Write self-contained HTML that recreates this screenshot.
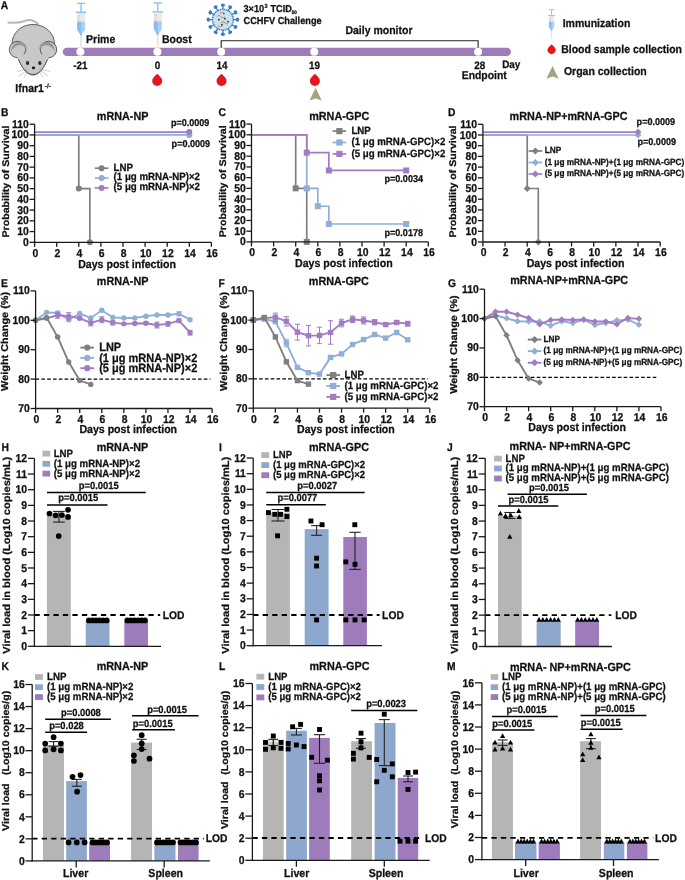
<!DOCTYPE html>
<html><head><meta charset="utf-8"><style>
html,body{margin:0;padding:0;background:#fff;}
svg{display:block;will-change:transform;}
text{font-family:"Liberation Sans",sans-serif;text-rendering:geometricPrecision;}
</style></head><body>
<svg width="685" height="880" viewBox="0 0 685 880">
<rect width="685" height="880" fill="#fff"/>
<text transform="translate(0.80 8.50) scale(1 1.09)" font-size="10.30" text-anchor="start" font-weight="bold" fill="#111" stroke="#111" stroke-width="0.25">A</text>
<g>
<path d="M8.4,22.6 C14,22.9 20,22.6 24,21.2 C28,19.4 33,19.1 38,24" fill="none" stroke="#b9b9b9" stroke-width="2.1" stroke-linecap="round"/>
<path d="M33,24.5 C45.5,24.5 54.5,33.5 54.5,44 C54.5,52 50,56 47.5,59.5 C44.5,66 40,75 33,75 C26,75 21.5,66 18.5,59.5 C16,56 12,52 12,44 C12,33.5 20.5,24.5 33,24.5Z" fill="#c8c8c8" stroke="#444" stroke-width="0.85"/>
<circle cx="17.5" cy="49.5" r="8.2" fill="#c8c8c8" stroke="#444" stroke-width="0.85"/>
<circle cx="48.5" cy="49.5" r="8.2" fill="#c8c8c8" stroke="#444" stroke-width="0.85"/>
<path d="M11.3,52 C11,44 17,40.8 21.5,42 C25.5,43 27,46.5 26.6,50.5 C25,46 21,44.6 17.5,45.6 C14,46.8 12.2,49.5 11.3,52Z" fill="#979797"/>
<path d="M54.7,52 C55,44 49,40.8 44.5,42 C40.5,43 39,46.5 39.4,50.5 C41,46 45,44.6 48.5,45.6 C52,46.8 53.8,49.5 54.7,52Z" fill="#979797"/>
<path d="M17,57.5 C21,55 22,54 24,54.5 L42,54.5 C44,54 45,55 49,57.5 C46,64 41,74.5 33,74.5 C25,74.5 20,64 17,57.5Z" fill="#c8c8c8"/>
<path d="M18.5,59.5 C21.5,66 26,74.6 33,74.6 C40,74.6 44.5,66 47.5,59.5" fill="none" stroke="#444" stroke-width="0.85"/>
<ellipse cx="27.6" cy="63" rx="1.6" ry="1.9" fill="#1a1a1a"/>
<ellipse cx="39.9" cy="63" rx="1.6" ry="1.9" fill="#1a1a1a"/>
<circle cx="27.9" cy="62.5" r="0.45" fill="#ddd"/><circle cx="40.2" cy="62.5" r="0.45" fill="#ddd"/>
<ellipse cx="33.5" cy="67.9" rx="1.7" ry="1.35" fill="#1a1a1a"/>
<g stroke="#8a8a8a" stroke-width="0.45" fill="none">
<path d="M27,69 L17,71.5"/><path d="M27.5,70 L19,76"/><path d="M28,71 L24,77.5"/>
<path d="M40,69 L50,71.5"/><path d="M39.5,70 L48,76"/><path d="M39,71 L43,77.5"/>
</g>
</g>
<text transform="translate(15.30 91.60) scale(1 1.09)" font-size="10.50" text-anchor="start" font-weight="bold" fill="#111" stroke="#111" stroke-width="0.25">Ifnar1</text>
<text transform="translate(44.80 87.70) scale(1 1.0)" font-size="6.30" text-anchor="start" font-weight="bold" fill="#222" stroke="#222" stroke-width="0.25">-/-</text>
<rect x="62.7" y="47.70" width="448.30" height="8.3" rx="4.15" fill="#9d7cb9"/>
<circle cx="80.40" cy="51.85" r="4.00" fill="#fff"/>
<circle cx="157.40" cy="51.85" r="4.00" fill="#fff"/>
<circle cx="221.20" cy="51.85" r="4.00" fill="#fff"/>
<circle cx="314.20" cy="51.85" r="4.00" fill="#fff"/>
<circle cx="478.10" cy="51.85" r="4.00" fill="#fff"/>
<path d="M221.2,47.85 V40.8 H478.1 V47.85" fill="none" stroke="#222" stroke-width="1.1"/>
<g transform="translate(81.10,3.30) scale(1.0)"><rect x="-4.2" y="-0.6" width="8.4" height="1.4" fill="#8fc0ef"/><rect x="-0.7" y="0" width="1.4" height="9" fill="#8fc0ef"/><rect x="-5.3" y="8.3" width="10.6" height="1.5" fill="#8fc0ef"/><path d="M-4,9.8 H4 V26 L0.9,31.2 H-0.9 L-4,26Z" fill="#e9e9e9"/><path d="M-4,18.5 H4 V26 L0.9,31.2 H-0.9 L-4,26Z" fill="#a9d0f5"/><path d="M-4,18.5 H0 V31.2 H-0.9 L-4,26Z" fill="#8dbdf0"/><g stroke="#b0b0b0" stroke-width="0.5"><line x1="-3.5" y1="12.5" x2="-1" y2="12.5"/><line x1="-3.5" y1="15" x2="-1" y2="15"/><line x1="-3.5" y1="17.5" x2="-1" y2="17.5"/><line x1="-3.5" y1="20.5" x2="-1" y2="20.5"/><line x1="-3.5" y1="23" x2="-1" y2="23"/></g><rect x="-0.9" y="31.2" width="1.8" height="1" fill="#a29b78"/><rect x="-0.8" y="32.2" width="1.6" height="11.5" fill="#e3e3e3"/></g>
<g transform="translate(157.80,2.90) scale(1.0)"><rect x="-4.2" y="-0.6" width="8.4" height="1.4" fill="#8fc0ef"/><rect x="-0.7" y="0" width="1.4" height="9" fill="#8fc0ef"/><rect x="-5.3" y="8.3" width="10.6" height="1.5" fill="#8fc0ef"/><path d="M-4,9.8 H4 V26 L0.9,31.2 H-0.9 L-4,26Z" fill="#e9e9e9"/><path d="M-4,18.5 H4 V26 L0.9,31.2 H-0.9 L-4,26Z" fill="#a9d0f5"/><path d="M-4,18.5 H0 V31.2 H-0.9 L-4,26Z" fill="#8dbdf0"/><g stroke="#b0b0b0" stroke-width="0.5"><line x1="-3.5" y1="12.5" x2="-1" y2="12.5"/><line x1="-3.5" y1="15" x2="-1" y2="15"/><line x1="-3.5" y1="17.5" x2="-1" y2="17.5"/><line x1="-3.5" y1="20.5" x2="-1" y2="20.5"/><line x1="-3.5" y1="23" x2="-1" y2="23"/></g><rect x="-0.9" y="31.2" width="1.8" height="1" fill="#a29b78"/><rect x="-0.8" y="32.2" width="1.6" height="11.5" fill="#e3e3e3"/></g>
<text transform="translate(86.10 42.70) scale(1 1.09)" font-size="10.50" text-anchor="start" font-weight="bold" fill="#111" stroke="#111" stroke-width="0.25">Prime</text>
<text transform="translate(161.90 42.80) scale(1 1.09)" font-size="10.50" text-anchor="start" font-weight="bold" fill="#111" stroke="#111" stroke-width="0.25">Boost</text>
<g transform="translate(222.90,19.70)"><line x1="0.00" y1="-10.00" x2="0.00" y2="-14.60" stroke="#3b7cc4" stroke-width="1.3"/><ellipse cx="0.00" cy="-14.60" rx="2.1" ry="1.7" transform="rotate(0.0 0.00 -14.60)" fill="#3b7cc4"/><line x1="5.00" y1="-8.66" x2="7.30" y2="-12.64" stroke="#3b7cc4" stroke-width="1.3"/><ellipse cx="7.30" cy="-12.64" rx="2.1" ry="1.7" transform="rotate(30.0 7.30 -12.64)" fill="#3b7cc4"/><line x1="8.66" y1="-5.00" x2="12.64" y2="-7.30" stroke="#3b7cc4" stroke-width="1.3"/><ellipse cx="12.64" cy="-7.30" rx="2.1" ry="1.7" transform="rotate(60.0 12.64 -7.30)" fill="#3b7cc4"/><line x1="10.00" y1="0.00" x2="14.60" y2="0.00" stroke="#3b7cc4" stroke-width="1.3"/><ellipse cx="14.60" cy="0.00" rx="2.1" ry="1.7" transform="rotate(90.0 14.60 0.00)" fill="#3b7cc4"/><line x1="8.66" y1="5.00" x2="12.64" y2="7.30" stroke="#3b7cc4" stroke-width="1.3"/><ellipse cx="12.64" cy="7.30" rx="2.1" ry="1.7" transform="rotate(120.0 12.64 7.30)" fill="#3b7cc4"/><line x1="5.00" y1="8.66" x2="7.30" y2="12.64" stroke="#3b7cc4" stroke-width="1.3"/><ellipse cx="7.30" cy="12.64" rx="2.1" ry="1.7" transform="rotate(150.0 7.30 12.64)" fill="#3b7cc4"/><line x1="0.00" y1="10.00" x2="0.00" y2="14.60" stroke="#3b7cc4" stroke-width="1.3"/><ellipse cx="0.00" cy="14.60" rx="2.1" ry="1.7" transform="rotate(180.0 0.00 14.60)" fill="#3b7cc4"/><line x1="-5.00" y1="8.66" x2="-7.30" y2="12.64" stroke="#3b7cc4" stroke-width="1.3"/><ellipse cx="-7.30" cy="12.64" rx="2.1" ry="1.7" transform="rotate(210.0 -7.30 12.64)" fill="#3b7cc4"/><line x1="-8.66" y1="5.00" x2="-12.64" y2="7.30" stroke="#3b7cc4" stroke-width="1.3"/><ellipse cx="-12.64" cy="7.30" rx="2.1" ry="1.7" transform="rotate(240.0 -12.64 7.30)" fill="#3b7cc4"/><line x1="-10.00" y1="0.00" x2="-14.60" y2="0.00" stroke="#3b7cc4" stroke-width="1.3"/><ellipse cx="-14.60" cy="0.00" rx="2.1" ry="1.7" transform="rotate(270.0 -14.60 0.00)" fill="#3b7cc4"/><line x1="-8.66" y1="-5.00" x2="-12.64" y2="-7.30" stroke="#3b7cc4" stroke-width="1.3"/><ellipse cx="-12.64" cy="-7.30" rx="2.1" ry="1.7" transform="rotate(300.0 -12.64 -7.30)" fill="#3b7cc4"/><line x1="-5.00" y1="-8.66" x2="-7.30" y2="-12.64" stroke="#3b7cc4" stroke-width="1.3"/><ellipse cx="-7.30" cy="-12.64" rx="2.1" ry="1.7" transform="rotate(330.0 -7.30 -12.64)" fill="#3b7cc4"/><circle r="10.4" fill="#c3e6ef" stroke="#3b7cc4" stroke-width="1.5" stroke-dasharray="1.3 0.6"/><path d="M-6,-3 q2,-3 4,0 t4,0 M-2,3 q2,-2 4,0 t3,1 M-5,6 q2,2 5,0 M-3,-7 q2,1 4,-1" fill="none" stroke="#e05060" stroke-width="0.8"/><g fill="#333"><circle cx="-4" cy="0" r="0.9"/><circle cx="2" cy="-1" r="0.9"/><circle cx="5" cy="2" r="0.9"/><circle cx="-1" cy="5" r="0.9"/><circle cx="1" cy="-6" r="0.8"/></g></g>
<text transform="translate(243.50 11.70) scale(1 1.09)" font-size="9.20" text-anchor="start" font-weight="bold" fill="#111" stroke="#111" stroke-width="0.25">3×10</text>
<text transform="translate(264.40 7.60) scale(1 1.09)" font-size="5.50" text-anchor="start" font-weight="bold" fill="#111" stroke="#111" stroke-width="0.25">3</text>
<text transform="translate(270.50 11.70) scale(1 1.09)" font-size="9.20" text-anchor="start" font-weight="bold" fill="#111" stroke="#111" stroke-width="0.25">TCID</text>
<text transform="translate(291.80 14.00) scale(1 1.09)" font-size="4.60" text-anchor="start" font-weight="bold" fill="#111" stroke="#111" stroke-width="0.25">50</text>
<text transform="translate(243.50 23.50) scale(1 1.09)" font-size="9.20" text-anchor="start" font-weight="bold" fill="#111" stroke="#111" stroke-width="0.25">CCHFV Challenge</text>
<text transform="translate(345.40 33.70) scale(1 1.09)" font-size="10.50" text-anchor="start" font-weight="bold" fill="#111" stroke="#111" stroke-width="0.25">Daily monitor</text>
<text transform="translate(80.40 68.90) scale(1 1.09)" font-size="9.90" text-anchor="middle" font-weight="bold" fill="#111" stroke="#111" stroke-width="0.25">-21</text>
<text transform="translate(157.40 68.90) scale(1 1.09)" font-size="9.90" text-anchor="middle" font-weight="bold" fill="#111" stroke="#111" stroke-width="0.25">0</text>
<text transform="translate(222.10 68.90) scale(1 1.09)" font-size="9.90" text-anchor="middle" font-weight="bold" fill="#111" stroke="#111" stroke-width="0.25">14</text>
<text transform="translate(314.60 68.90) scale(1 1.09)" font-size="9.90" text-anchor="middle" font-weight="bold" fill="#111" stroke="#111" stroke-width="0.25">19</text>
<text transform="translate(479.80 68.90) scale(1 1.09)" font-size="9.90" text-anchor="middle" font-weight="bold" fill="#111" stroke="#111" stroke-width="0.25">28</text>
<text transform="translate(502.20 68.30) scale(1 1.09)" font-size="9.90" text-anchor="start" font-weight="bold" fill="#111" stroke="#111" stroke-width="0.25">Day</text>
<text transform="translate(461.70 79.30) scale(1 1.09)" font-size="10.40" text-anchor="start" font-weight="bold" fill="#111" stroke="#111" stroke-width="0.25">Endpoint</text>
<path d="M157.20,73.80 Q159.18,75.47 160.80,77.52 A5.00,5.00 0 1 1 153.60,77.52 Q155.22,75.47 157.20,73.80Z" fill="#e8161b"/>
<path d="M221.50,73.80 Q223.48,75.47 225.10,77.52 A5.00,5.00 0 1 1 217.90,77.52 Q219.52,75.47 221.50,73.80Z" fill="#e8161b"/>
<path d="M314.90,73.80 Q316.88,75.47 318.50,77.52 A5.00,5.00 0 1 1 311.30,77.52 Q312.92,75.47 314.90,73.80Z" fill="#e8161b"/>
<path d="M315.60,87.70 L321.70,100.60 L315.60,98.40 L309.50,100.60Z" fill="#a6a385"/>
<g transform="translate(551.60,9.60) scale(0.66)"><rect x="-4.2" y="-0.6" width="8.4" height="1.4" fill="#8fc0ef"/><rect x="-0.7" y="0" width="1.4" height="9" fill="#8fc0ef"/><rect x="-5.3" y="8.3" width="10.6" height="1.5" fill="#8fc0ef"/><path d="M-4,9.8 H4 V26 L0.9,31.2 H-0.9 L-4,26Z" fill="#e9e9e9"/><path d="M-4,18.5 H4 V26 L0.9,31.2 H-0.9 L-4,26Z" fill="#a9d0f5"/><path d="M-4,18.5 H0 V31.2 H-0.9 L-4,26Z" fill="#8dbdf0"/><g stroke="#b0b0b0" stroke-width="0.5"><line x1="-3.5" y1="12.5" x2="-1" y2="12.5"/><line x1="-3.5" y1="15" x2="-1" y2="15"/><line x1="-3.5" y1="17.5" x2="-1" y2="17.5"/><line x1="-3.5" y1="20.5" x2="-1" y2="20.5"/><line x1="-3.5" y1="23" x2="-1" y2="23"/></g><rect x="-0.9" y="31.2" width="1.8" height="1" fill="#a29b78"/><rect x="-0.8" y="32.2" width="1.6" height="11.5" fill="#e3e3e3"/></g>
<text transform="translate(562.70 26.90) scale(1 1.09)" font-size="10.50" text-anchor="start" font-weight="bold" fill="#111" stroke="#111" stroke-width="0.25">Immunization</text>
<path d="M551.60,44.20 Q553.17,45.53 554.46,47.16 A3.98,3.98 0 1 1 548.74,47.16 Q550.03,45.53 551.60,44.20Z" fill="#e8161b"/>
<text transform="translate(561.20 53.30) scale(1 1.09)" font-size="10.50" text-anchor="start" font-weight="bold" fill="#111" stroke="#111" stroke-width="0.25">Blood sample collection</text>
<path d="M552.50,66.00 L558.60,78.80 L552.50,76.60 L546.40,78.80Z" fill="#a6a385"/>
<text transform="translate(563.90 75.10) scale(1 1.09)" font-size="10.50" text-anchor="start" font-weight="bold" fill="#111" stroke="#111" stroke-width="0.25">Organ collection</text>
<polyline points="34.60,134.94 78.80,134.94 78.80,188.62 89.85,188.62 89.85,242.30" fill="none" stroke="#7f7f7f" stroke-width="1.7" stroke-linejoin="miter"/>
<polyline points="34.60,134.94 189.30,134.94" fill="none" stroke="#8fafd7" stroke-width="1.7" stroke-linejoin="miter"/>
<polyline points="34.60,132.04 189.30,132.04" fill="none" stroke="#a27cc2" stroke-width="1.7" stroke-linejoin="miter"/>
<circle cx="78.80" cy="188.62" r="3.00" fill="#7f7f7f"/>
<circle cx="89.85" cy="242.30" r="3.00" fill="#7f7f7f"/>
<circle cx="189.30" cy="134.94" r="3.00" fill="#8fafd7"/>
<circle cx="189.30" cy="132.04" r="3.00" fill="#a27cc2"/>
<line x1="34.60" y1="124.20" x2="34.60" y2="242.30" stroke="#1a1a1a" stroke-width="1.3"/>
<line x1="29.60" y1="242.30" x2="34.60" y2="242.30" stroke="#1a1a1a" stroke-width="1.3"/>
<text transform="translate(28.80 245.80) scale(1 1.09)" font-size="10.40" text-anchor="end" font-weight="bold" fill="#111" stroke="#111" stroke-width="0.25">0</text>
<line x1="29.60" y1="231.56" x2="34.60" y2="231.56" stroke="#1a1a1a" stroke-width="1.3"/>
<text transform="translate(28.80 235.06) scale(1 1.09)" font-size="10.40" text-anchor="end" font-weight="bold" fill="#111" stroke="#111" stroke-width="0.25">10</text>
<line x1="29.60" y1="220.83" x2="34.60" y2="220.83" stroke="#1a1a1a" stroke-width="1.3"/>
<text transform="translate(28.80 224.33) scale(1 1.09)" font-size="10.40" text-anchor="end" font-weight="bold" fill="#111" stroke="#111" stroke-width="0.25">20</text>
<line x1="29.60" y1="210.09" x2="34.60" y2="210.09" stroke="#1a1a1a" stroke-width="1.3"/>
<text transform="translate(28.80 213.59) scale(1 1.09)" font-size="10.40" text-anchor="end" font-weight="bold" fill="#111" stroke="#111" stroke-width="0.25">30</text>
<line x1="29.60" y1="199.36" x2="34.60" y2="199.36" stroke="#1a1a1a" stroke-width="1.3"/>
<text transform="translate(28.80 202.86) scale(1 1.09)" font-size="10.40" text-anchor="end" font-weight="bold" fill="#111" stroke="#111" stroke-width="0.25">40</text>
<line x1="29.60" y1="188.62" x2="34.60" y2="188.62" stroke="#1a1a1a" stroke-width="1.3"/>
<text transform="translate(28.80 192.12) scale(1 1.09)" font-size="10.40" text-anchor="end" font-weight="bold" fill="#111" stroke="#111" stroke-width="0.25">50</text>
<line x1="29.60" y1="177.88" x2="34.60" y2="177.88" stroke="#1a1a1a" stroke-width="1.3"/>
<text transform="translate(28.80 181.38) scale(1 1.09)" font-size="10.40" text-anchor="end" font-weight="bold" fill="#111" stroke="#111" stroke-width="0.25">60</text>
<line x1="29.60" y1="167.15" x2="34.60" y2="167.15" stroke="#1a1a1a" stroke-width="1.3"/>
<text transform="translate(28.80 170.65) scale(1 1.09)" font-size="10.40" text-anchor="end" font-weight="bold" fill="#111" stroke="#111" stroke-width="0.25">70</text>
<line x1="29.60" y1="156.41" x2="34.60" y2="156.41" stroke="#1a1a1a" stroke-width="1.3"/>
<text transform="translate(28.80 159.91) scale(1 1.09)" font-size="10.40" text-anchor="end" font-weight="bold" fill="#111" stroke="#111" stroke-width="0.25">80</text>
<line x1="29.60" y1="145.68" x2="34.60" y2="145.68" stroke="#1a1a1a" stroke-width="1.3"/>
<text transform="translate(28.80 149.18) scale(1 1.09)" font-size="10.40" text-anchor="end" font-weight="bold" fill="#111" stroke="#111" stroke-width="0.25">90</text>
<line x1="29.60" y1="134.94" x2="34.60" y2="134.94" stroke="#1a1a1a" stroke-width="1.3"/>
<text transform="translate(28.80 138.44) scale(1 1.09)" font-size="10.40" text-anchor="end" font-weight="bold" fill="#111" stroke="#111" stroke-width="0.25">100</text>
<line x1="29.60" y1="124.20" x2="34.60" y2="124.20" stroke="#1a1a1a" stroke-width="1.3"/>
<text transform="translate(28.80 127.70) scale(1 1.09)" font-size="10.40" text-anchor="end" font-weight="bold" fill="#111" stroke="#111" stroke-width="0.25">110</text>
<line x1="34.60" y1="242.30" x2="211.40" y2="242.30" stroke="#1a1a1a" stroke-width="1.3"/>
<line x1="34.60" y1="242.30" x2="34.60" y2="246.80" stroke="#1a1a1a" stroke-width="1.3"/>
<text transform="translate(35.30 256.60) scale(1 1.09)" font-size="10.40" text-anchor="middle" font-weight="bold" fill="#111" stroke="#111" stroke-width="0.25">0</text>
<line x1="56.70" y1="242.30" x2="56.70" y2="246.80" stroke="#1a1a1a" stroke-width="1.3"/>
<text transform="translate(57.40 256.60) scale(1 1.09)" font-size="10.40" text-anchor="middle" font-weight="bold" fill="#111" stroke="#111" stroke-width="0.25">2</text>
<line x1="78.80" y1="242.30" x2="78.80" y2="246.80" stroke="#1a1a1a" stroke-width="1.3"/>
<text transform="translate(79.50 256.60) scale(1 1.09)" font-size="10.40" text-anchor="middle" font-weight="bold" fill="#111" stroke="#111" stroke-width="0.25">4</text>
<line x1="100.90" y1="242.30" x2="100.90" y2="246.80" stroke="#1a1a1a" stroke-width="1.3"/>
<text transform="translate(101.60 256.60) scale(1 1.09)" font-size="10.40" text-anchor="middle" font-weight="bold" fill="#111" stroke="#111" stroke-width="0.25">6</text>
<line x1="123.00" y1="242.30" x2="123.00" y2="246.80" stroke="#1a1a1a" stroke-width="1.3"/>
<text transform="translate(123.70 256.60) scale(1 1.09)" font-size="10.40" text-anchor="middle" font-weight="bold" fill="#111" stroke="#111" stroke-width="0.25">8</text>
<line x1="145.10" y1="242.30" x2="145.10" y2="246.80" stroke="#1a1a1a" stroke-width="1.3"/>
<text transform="translate(145.80 256.60) scale(1 1.09)" font-size="10.40" text-anchor="middle" font-weight="bold" fill="#111" stroke="#111" stroke-width="0.25">10</text>
<line x1="167.20" y1="242.30" x2="167.20" y2="246.80" stroke="#1a1a1a" stroke-width="1.3"/>
<text transform="translate(167.90 256.60) scale(1 1.09)" font-size="10.40" text-anchor="middle" font-weight="bold" fill="#111" stroke="#111" stroke-width="0.25">12</text>
<line x1="189.30" y1="242.30" x2="189.30" y2="246.80" stroke="#1a1a1a" stroke-width="1.3"/>
<text transform="translate(190.00 256.60) scale(1 1.09)" font-size="10.40" text-anchor="middle" font-weight="bold" fill="#111" stroke="#111" stroke-width="0.25">14</text>
<line x1="211.40" y1="242.30" x2="211.40" y2="246.80" stroke="#1a1a1a" stroke-width="1.3"/>
<text transform="translate(212.10 256.60) scale(1 1.09)" font-size="10.40" text-anchor="middle" font-weight="bold" fill="#111" stroke="#111" stroke-width="0.25">16</text>
<text transform="translate(127.00 267.50) scale(1 1.09)" font-size="10.60" text-anchor="middle" font-weight="bold" fill="#111" stroke="#111" stroke-width="0.25">Days post infection</text>
<text transform="translate(122.60 120.10) scale(1 1.09)" font-size="10.80" text-anchor="middle" font-weight="bold" fill="#111" stroke="#111" stroke-width="0.25">mRNA-NP</text>
<text transform="translate(9.00 181.55) rotate(-90) scale(1.09 1)" font-size="9.72" text-anchor="middle" font-weight="bold" fill="#111" stroke="#111" stroke-width="0.25">Probability of Survival</text>
<line x1="94.80" y1="168.20" x2="108.40" y2="168.20" stroke="#7f7f7f" stroke-width="1.7"/>
<circle cx="101.60" cy="168.20" r="3.00" fill="#7f7f7f"/>
<text transform="translate(113.60 170.50) scale(1 1.09)" font-size="9.70" text-anchor="start" font-weight="bold" fill="#111" stroke="#111" stroke-width="0.25">LNP</text>
<line x1="94.80" y1="178.05" x2="108.40" y2="178.05" stroke="#8fafd7" stroke-width="1.7"/>
<circle cx="101.60" cy="178.05" r="3.00" fill="#8fafd7"/>
<text transform="translate(113.60 180.35) scale(1 1.09)" font-size="9.70" text-anchor="start" font-weight="bold" fill="#111" stroke="#111" stroke-width="0.25">(1 μg mRNA-NP)×2</text>
<line x1="94.80" y1="187.90" x2="108.40" y2="187.90" stroke="#a27cc2" stroke-width="1.7"/>
<circle cx="101.60" cy="187.90" r="3.00" fill="#a27cc2"/>
<text transform="translate(113.60 190.20) scale(1 1.09)" font-size="9.70" text-anchor="start" font-weight="bold" fill="#111" stroke="#111" stroke-width="0.25">(5 μg mRNA-NP)×2</text>
<text transform="translate(170.90 126.40) scale(1 1.09)" font-size="9.05" text-anchor="start" font-weight="bold" fill="#111" stroke="#111" stroke-width="0.25">p=0.0009</text>
<text transform="translate(171.60 147.00) scale(1 1.09)" font-size="9.05" text-anchor="start" font-weight="bold" fill="#111" stroke="#111" stroke-width="0.25">p=0.0009</text>
<text transform="translate(1.00 115.70) scale(1 1.09)" font-size="10.30" text-anchor="start" font-weight="bold" fill="#111" stroke="#111" stroke-width="0.25">B</text>
<polyline points="251.50,134.80 295.70,134.80 295.70,188.35 306.75,188.35 306.75,241.90" fill="none" stroke="#7f7f7f" stroke-width="1.7" stroke-linejoin="miter"/>
<polyline points="251.50,134.80 306.75,134.80 306.75,188.35 317.80,188.35 317.80,206.24 328.85,206.24 328.85,224.01 406.20,224.01" fill="none" stroke="#8fafd7" stroke-width="1.7" stroke-linejoin="miter"/>
<polyline points="251.50,134.80 306.75,134.80 306.75,152.69 328.85,152.69 328.85,170.46 406.20,170.46" fill="none" stroke="#a27cc2" stroke-width="1.7" stroke-linejoin="miter"/>
<rect x="292.70" y="185.35" width="6.00" height="6.00" fill="#7f7f7f"/>
<rect x="303.75" y="238.90" width="6.00" height="6.00" fill="#7f7f7f"/>
<rect x="303.75" y="185.35" width="6.00" height="6.00" fill="#8fafd7"/>
<rect x="314.80" y="203.24" width="6.00" height="6.00" fill="#8fafd7"/>
<rect x="325.85" y="221.01" width="6.00" height="6.00" fill="#8fafd7"/>
<rect x="403.20" y="221.01" width="6.00" height="6.00" fill="#8fafd7"/>
<rect x="303.75" y="149.69" width="6.00" height="6.00" fill="#a27cc2"/>
<rect x="325.85" y="167.46" width="6.00" height="6.00" fill="#a27cc2"/>
<rect x="403.20" y="167.46" width="6.00" height="6.00" fill="#a27cc2"/>
<line x1="251.50" y1="124.09" x2="251.50" y2="241.90" stroke="#1a1a1a" stroke-width="1.3"/>
<line x1="246.50" y1="241.90" x2="251.50" y2="241.90" stroke="#1a1a1a" stroke-width="1.3"/>
<text transform="translate(245.70 245.40) scale(1 1.09)" font-size="10.40" text-anchor="end" font-weight="bold" fill="#111" stroke="#111" stroke-width="0.25">0</text>
<line x1="246.50" y1="231.19" x2="251.50" y2="231.19" stroke="#1a1a1a" stroke-width="1.3"/>
<text transform="translate(245.70 234.69) scale(1 1.09)" font-size="10.40" text-anchor="end" font-weight="bold" fill="#111" stroke="#111" stroke-width="0.25">10</text>
<line x1="246.50" y1="220.48" x2="251.50" y2="220.48" stroke="#1a1a1a" stroke-width="1.3"/>
<text transform="translate(245.70 223.98) scale(1 1.09)" font-size="10.40" text-anchor="end" font-weight="bold" fill="#111" stroke="#111" stroke-width="0.25">20</text>
<line x1="246.50" y1="209.77" x2="251.50" y2="209.77" stroke="#1a1a1a" stroke-width="1.3"/>
<text transform="translate(245.70 213.27) scale(1 1.09)" font-size="10.40" text-anchor="end" font-weight="bold" fill="#111" stroke="#111" stroke-width="0.25">30</text>
<line x1="246.50" y1="199.06" x2="251.50" y2="199.06" stroke="#1a1a1a" stroke-width="1.3"/>
<text transform="translate(245.70 202.56) scale(1 1.09)" font-size="10.40" text-anchor="end" font-weight="bold" fill="#111" stroke="#111" stroke-width="0.25">40</text>
<line x1="246.50" y1="188.35" x2="251.50" y2="188.35" stroke="#1a1a1a" stroke-width="1.3"/>
<text transform="translate(245.70 191.85) scale(1 1.09)" font-size="10.40" text-anchor="end" font-weight="bold" fill="#111" stroke="#111" stroke-width="0.25">50</text>
<line x1="246.50" y1="177.64" x2="251.50" y2="177.64" stroke="#1a1a1a" stroke-width="1.3"/>
<text transform="translate(245.70 181.14) scale(1 1.09)" font-size="10.40" text-anchor="end" font-weight="bold" fill="#111" stroke="#111" stroke-width="0.25">60</text>
<line x1="246.50" y1="166.93" x2="251.50" y2="166.93" stroke="#1a1a1a" stroke-width="1.3"/>
<text transform="translate(245.70 170.43) scale(1 1.09)" font-size="10.40" text-anchor="end" font-weight="bold" fill="#111" stroke="#111" stroke-width="0.25">70</text>
<line x1="246.50" y1="156.22" x2="251.50" y2="156.22" stroke="#1a1a1a" stroke-width="1.3"/>
<text transform="translate(245.70 159.72) scale(1 1.09)" font-size="10.40" text-anchor="end" font-weight="bold" fill="#111" stroke="#111" stroke-width="0.25">80</text>
<line x1="246.50" y1="145.51" x2="251.50" y2="145.51" stroke="#1a1a1a" stroke-width="1.3"/>
<text transform="translate(245.70 149.01) scale(1 1.09)" font-size="10.40" text-anchor="end" font-weight="bold" fill="#111" stroke="#111" stroke-width="0.25">90</text>
<line x1="246.50" y1="134.80" x2="251.50" y2="134.80" stroke="#1a1a1a" stroke-width="1.3"/>
<text transform="translate(245.70 138.30) scale(1 1.09)" font-size="10.40" text-anchor="end" font-weight="bold" fill="#111" stroke="#111" stroke-width="0.25">100</text>
<line x1="246.50" y1="124.09" x2="251.50" y2="124.09" stroke="#1a1a1a" stroke-width="1.3"/>
<text transform="translate(245.70 127.59) scale(1 1.09)" font-size="10.40" text-anchor="end" font-weight="bold" fill="#111" stroke="#111" stroke-width="0.25">110</text>
<line x1="251.50" y1="241.90" x2="428.30" y2="241.90" stroke="#1a1a1a" stroke-width="1.3"/>
<line x1="251.50" y1="241.90" x2="251.50" y2="246.40" stroke="#1a1a1a" stroke-width="1.3"/>
<text transform="translate(252.20 256.20) scale(1 1.09)" font-size="10.40" text-anchor="middle" font-weight="bold" fill="#111" stroke="#111" stroke-width="0.25">0</text>
<line x1="273.60" y1="241.90" x2="273.60" y2="246.40" stroke="#1a1a1a" stroke-width="1.3"/>
<text transform="translate(274.30 256.20) scale(1 1.09)" font-size="10.40" text-anchor="middle" font-weight="bold" fill="#111" stroke="#111" stroke-width="0.25">2</text>
<line x1="295.70" y1="241.90" x2="295.70" y2="246.40" stroke="#1a1a1a" stroke-width="1.3"/>
<text transform="translate(296.40 256.20) scale(1 1.09)" font-size="10.40" text-anchor="middle" font-weight="bold" fill="#111" stroke="#111" stroke-width="0.25">4</text>
<line x1="317.80" y1="241.90" x2="317.80" y2="246.40" stroke="#1a1a1a" stroke-width="1.3"/>
<text transform="translate(318.50 256.20) scale(1 1.09)" font-size="10.40" text-anchor="middle" font-weight="bold" fill="#111" stroke="#111" stroke-width="0.25">6</text>
<line x1="339.90" y1="241.90" x2="339.90" y2="246.40" stroke="#1a1a1a" stroke-width="1.3"/>
<text transform="translate(340.60 256.20) scale(1 1.09)" font-size="10.40" text-anchor="middle" font-weight="bold" fill="#111" stroke="#111" stroke-width="0.25">8</text>
<line x1="362.00" y1="241.90" x2="362.00" y2="246.40" stroke="#1a1a1a" stroke-width="1.3"/>
<text transform="translate(362.70 256.20) scale(1 1.09)" font-size="10.40" text-anchor="middle" font-weight="bold" fill="#111" stroke="#111" stroke-width="0.25">10</text>
<line x1="384.10" y1="241.90" x2="384.10" y2="246.40" stroke="#1a1a1a" stroke-width="1.3"/>
<text transform="translate(384.80 256.20) scale(1 1.09)" font-size="10.40" text-anchor="middle" font-weight="bold" fill="#111" stroke="#111" stroke-width="0.25">12</text>
<line x1="406.20" y1="241.90" x2="406.20" y2="246.40" stroke="#1a1a1a" stroke-width="1.3"/>
<text transform="translate(406.90 256.20) scale(1 1.09)" font-size="10.40" text-anchor="middle" font-weight="bold" fill="#111" stroke="#111" stroke-width="0.25">14</text>
<line x1="428.30" y1="241.90" x2="428.30" y2="246.40" stroke="#1a1a1a" stroke-width="1.3"/>
<text transform="translate(429.00 256.20) scale(1 1.09)" font-size="10.40" text-anchor="middle" font-weight="bold" fill="#111" stroke="#111" stroke-width="0.25">16</text>
<text transform="translate(343.90 267.10) scale(1 1.09)" font-size="10.60" text-anchor="middle" font-weight="bold" fill="#111" stroke="#111" stroke-width="0.25">Days post infection</text>
<text transform="translate(339.20 120.10) scale(1 1.09)" font-size="10.80" text-anchor="middle" font-weight="bold" fill="#111" stroke="#111" stroke-width="0.25">mRNA-GPC</text>
<text transform="translate(226.00 181.30) rotate(-90) scale(1.09 1)" font-size="9.72" text-anchor="middle" font-weight="bold" fill="#111" stroke="#111" stroke-width="0.25">Probability of Survival</text>
<line x1="332.60" y1="131.10" x2="346.20" y2="131.10" stroke="#7f7f7f" stroke-width="1.7"/>
<rect x="336.30" y="128.00" width="6.20" height="6.20" fill="#7f7f7f"/>
<text transform="translate(351.40 133.90) scale(1 1.09)" font-size="9.70" text-anchor="start" font-weight="bold" fill="#111" stroke="#111" stroke-width="0.25">LNP</text>
<line x1="332.60" y1="142.50" x2="346.20" y2="142.50" stroke="#8fafd7" stroke-width="1.7"/>
<rect x="336.30" y="139.40" width="6.20" height="6.20" fill="#8fafd7"/>
<text transform="translate(351.40 145.30) scale(1 1.09)" font-size="9.70" text-anchor="start" font-weight="bold" fill="#111" stroke="#111" stroke-width="0.25">(1 μg mRNA-GPC)×2</text>
<line x1="332.60" y1="153.90" x2="346.20" y2="153.90" stroke="#a27cc2" stroke-width="1.7"/>
<rect x="336.30" y="150.80" width="6.20" height="6.20" fill="#a27cc2"/>
<text transform="translate(351.40 156.70) scale(1 1.09)" font-size="9.70" text-anchor="start" font-weight="bold" fill="#111" stroke="#111" stroke-width="0.25">(5 μg mRNA-GPC)×2</text>
<text transform="translate(384.50 182.20) scale(1 1.09)" font-size="9.05" text-anchor="start" font-weight="bold" fill="#111" stroke="#111" stroke-width="0.25">p=0.0034</text>
<text transform="translate(384.50 236.00) scale(1 1.09)" font-size="9.05" text-anchor="start" font-weight="bold" fill="#111" stroke="#111" stroke-width="0.25">p=0.0178</text>
<text transform="translate(218.60 116.00) scale(1 1.09)" font-size="10.30" text-anchor="start" font-weight="bold" fill="#111" stroke="#111" stroke-width="0.25">C</text>
<polyline points="482.90,135.00 527.22,135.00 527.22,188.50 538.30,188.50 538.30,242.00" fill="none" stroke="#7f7f7f" stroke-width="1.7" stroke-linejoin="miter"/>
<polyline points="482.90,135.00 638.02,135.00" fill="none" stroke="#8fafd7" stroke-width="1.7" stroke-linejoin="miter"/>
<polyline points="482.90,132.10 638.02,132.10" fill="none" stroke="#a27cc2" stroke-width="1.7" stroke-linejoin="miter"/>
<path d="M527.22,184.99 L530.73,188.50 L527.22,192.01 L523.71,188.50Z" fill="#7f7f7f"/>
<path d="M538.30,238.49 L541.81,242.00 L538.30,245.51 L534.79,242.00Z" fill="#7f7f7f"/>
<path d="M638.02,131.49 L641.53,135.00 L638.02,138.51 L634.51,135.00Z" fill="#8fafd7"/>
<path d="M638.02,128.59 L641.53,132.10 L638.02,135.61 L634.51,132.10Z" fill="#a27cc2"/>
<line x1="482.90" y1="124.30" x2="482.90" y2="242.00" stroke="#1a1a1a" stroke-width="1.3"/>
<line x1="477.90" y1="242.00" x2="482.90" y2="242.00" stroke="#1a1a1a" stroke-width="1.3"/>
<text transform="translate(477.10 245.50) scale(1 1.09)" font-size="10.40" text-anchor="end" font-weight="bold" fill="#111" stroke="#111" stroke-width="0.25">0</text>
<line x1="477.90" y1="231.30" x2="482.90" y2="231.30" stroke="#1a1a1a" stroke-width="1.3"/>
<text transform="translate(477.10 234.80) scale(1 1.09)" font-size="10.40" text-anchor="end" font-weight="bold" fill="#111" stroke="#111" stroke-width="0.25">10</text>
<line x1="477.90" y1="220.60" x2="482.90" y2="220.60" stroke="#1a1a1a" stroke-width="1.3"/>
<text transform="translate(477.10 224.10) scale(1 1.09)" font-size="10.40" text-anchor="end" font-weight="bold" fill="#111" stroke="#111" stroke-width="0.25">20</text>
<line x1="477.90" y1="209.90" x2="482.90" y2="209.90" stroke="#1a1a1a" stroke-width="1.3"/>
<text transform="translate(477.10 213.40) scale(1 1.09)" font-size="10.40" text-anchor="end" font-weight="bold" fill="#111" stroke="#111" stroke-width="0.25">30</text>
<line x1="477.90" y1="199.20" x2="482.90" y2="199.20" stroke="#1a1a1a" stroke-width="1.3"/>
<text transform="translate(477.10 202.70) scale(1 1.09)" font-size="10.40" text-anchor="end" font-weight="bold" fill="#111" stroke="#111" stroke-width="0.25">40</text>
<line x1="477.90" y1="188.50" x2="482.90" y2="188.50" stroke="#1a1a1a" stroke-width="1.3"/>
<text transform="translate(477.10 192.00) scale(1 1.09)" font-size="10.40" text-anchor="end" font-weight="bold" fill="#111" stroke="#111" stroke-width="0.25">50</text>
<line x1="477.90" y1="177.80" x2="482.90" y2="177.80" stroke="#1a1a1a" stroke-width="1.3"/>
<text transform="translate(477.10 181.30) scale(1 1.09)" font-size="10.40" text-anchor="end" font-weight="bold" fill="#111" stroke="#111" stroke-width="0.25">60</text>
<line x1="477.90" y1="167.10" x2="482.90" y2="167.10" stroke="#1a1a1a" stroke-width="1.3"/>
<text transform="translate(477.10 170.60) scale(1 1.09)" font-size="10.40" text-anchor="end" font-weight="bold" fill="#111" stroke="#111" stroke-width="0.25">70</text>
<line x1="477.90" y1="156.40" x2="482.90" y2="156.40" stroke="#1a1a1a" stroke-width="1.3"/>
<text transform="translate(477.10 159.90) scale(1 1.09)" font-size="10.40" text-anchor="end" font-weight="bold" fill="#111" stroke="#111" stroke-width="0.25">80</text>
<line x1="477.90" y1="145.70" x2="482.90" y2="145.70" stroke="#1a1a1a" stroke-width="1.3"/>
<text transform="translate(477.10 149.20) scale(1 1.09)" font-size="10.40" text-anchor="end" font-weight="bold" fill="#111" stroke="#111" stroke-width="0.25">90</text>
<line x1="477.90" y1="135.00" x2="482.90" y2="135.00" stroke="#1a1a1a" stroke-width="1.3"/>
<text transform="translate(477.10 138.50) scale(1 1.09)" font-size="10.40" text-anchor="end" font-weight="bold" fill="#111" stroke="#111" stroke-width="0.25">100</text>
<line x1="477.90" y1="124.30" x2="482.90" y2="124.30" stroke="#1a1a1a" stroke-width="1.3"/>
<text transform="translate(477.10 127.80) scale(1 1.09)" font-size="10.40" text-anchor="end" font-weight="bold" fill="#111" stroke="#111" stroke-width="0.25">110</text>
<line x1="482.90" y1="242.00" x2="660.18" y2="242.00" stroke="#1a1a1a" stroke-width="1.3"/>
<line x1="482.90" y1="242.00" x2="482.90" y2="246.50" stroke="#1a1a1a" stroke-width="1.3"/>
<text transform="translate(483.60 256.30) scale(1 1.09)" font-size="10.40" text-anchor="middle" font-weight="bold" fill="#111" stroke="#111" stroke-width="0.25">0</text>
<line x1="505.06" y1="242.00" x2="505.06" y2="246.50" stroke="#1a1a1a" stroke-width="1.3"/>
<text transform="translate(505.76 256.30) scale(1 1.09)" font-size="10.40" text-anchor="middle" font-weight="bold" fill="#111" stroke="#111" stroke-width="0.25">2</text>
<line x1="527.22" y1="242.00" x2="527.22" y2="246.50" stroke="#1a1a1a" stroke-width="1.3"/>
<text transform="translate(527.92 256.30) scale(1 1.09)" font-size="10.40" text-anchor="middle" font-weight="bold" fill="#111" stroke="#111" stroke-width="0.25">4</text>
<line x1="549.38" y1="242.00" x2="549.38" y2="246.50" stroke="#1a1a1a" stroke-width="1.3"/>
<text transform="translate(550.08 256.30) scale(1 1.09)" font-size="10.40" text-anchor="middle" font-weight="bold" fill="#111" stroke="#111" stroke-width="0.25">6</text>
<line x1="571.54" y1="242.00" x2="571.54" y2="246.50" stroke="#1a1a1a" stroke-width="1.3"/>
<text transform="translate(572.24 256.30) scale(1 1.09)" font-size="10.40" text-anchor="middle" font-weight="bold" fill="#111" stroke="#111" stroke-width="0.25">8</text>
<line x1="593.70" y1="242.00" x2="593.70" y2="246.50" stroke="#1a1a1a" stroke-width="1.3"/>
<text transform="translate(594.40 256.30) scale(1 1.09)" font-size="10.40" text-anchor="middle" font-weight="bold" fill="#111" stroke="#111" stroke-width="0.25">10</text>
<line x1="615.86" y1="242.00" x2="615.86" y2="246.50" stroke="#1a1a1a" stroke-width="1.3"/>
<text transform="translate(616.56 256.30) scale(1 1.09)" font-size="10.40" text-anchor="middle" font-weight="bold" fill="#111" stroke="#111" stroke-width="0.25">12</text>
<line x1="638.02" y1="242.00" x2="638.02" y2="246.50" stroke="#1a1a1a" stroke-width="1.3"/>
<text transform="translate(638.72 256.30) scale(1 1.09)" font-size="10.40" text-anchor="middle" font-weight="bold" fill="#111" stroke="#111" stroke-width="0.25">14</text>
<line x1="660.18" y1="242.00" x2="660.18" y2="246.50" stroke="#1a1a1a" stroke-width="1.3"/>
<text transform="translate(660.88 256.30) scale(1 1.09)" font-size="10.40" text-anchor="middle" font-weight="bold" fill="#111" stroke="#111" stroke-width="0.25">16</text>
<text transform="translate(575.54 267.20) scale(1 1.09)" font-size="10.60" text-anchor="middle" font-weight="bold" fill="#111" stroke="#111" stroke-width="0.25">Days post infection</text>
<text transform="translate(568.50 119.70) scale(1 1.09)" font-size="10.80" text-anchor="middle" font-weight="bold" fill="#111" stroke="#111" stroke-width="0.25">mRNA-NP+mRNA-GPC</text>
<text transform="translate(456.30 181.45) rotate(-90) scale(1.09 1)" font-size="9.72" text-anchor="middle" font-weight="bold" fill="#111" stroke="#111" stroke-width="0.25">Probability of Survival</text>
<line x1="528.60" y1="151.00" x2="542.20" y2="151.00" stroke="#7f7f7f" stroke-width="1.7"/>
<path d="M535.40,147.49 L538.91,151.00 L535.40,154.51 L531.89,151.00Z" fill="#7f7f7f"/>
<text transform="translate(544.70 153.10) scale(1 1.09)" font-size="8.25" text-anchor="start" font-weight="bold" fill="#111" stroke="#111" stroke-width="0.25">LNP</text>
<line x1="528.60" y1="162.50" x2="542.20" y2="162.50" stroke="#8fafd7" stroke-width="1.7"/>
<path d="M535.40,158.99 L538.91,162.50 L535.40,166.01 L531.89,162.50Z" fill="#8fafd7"/>
<text transform="translate(544.70 164.60) scale(1 1.09)" font-size="8.25" text-anchor="start" font-weight="bold" fill="#111" stroke="#111" stroke-width="0.25">(1 μg mRNA-NP)+(1 μg mRNA-GPC)</text>
<line x1="528.60" y1="174.00" x2="542.20" y2="174.00" stroke="#a27cc2" stroke-width="1.7"/>
<path d="M535.40,170.49 L538.91,174.00 L535.40,177.51 L531.89,174.00Z" fill="#a27cc2"/>
<text transform="translate(544.70 176.10) scale(1 1.09)" font-size="8.25" text-anchor="start" font-weight="bold" fill="#111" stroke="#111" stroke-width="0.25">(5 μg mRNA-NP)+(5 μg mRNA-GPC)</text>
<text transform="translate(636.60 124.90) scale(1 1.09)" font-size="9.05" text-anchor="start" font-weight="bold" fill="#111" stroke="#111" stroke-width="0.25">p=0.0009</text>
<text transform="translate(637.50 144.90) scale(1 1.09)" font-size="9.05" text-anchor="start" font-weight="bold" fill="#111" stroke="#111" stroke-width="0.25">p=0.0009</text>
<text transform="translate(448.00 115.80) scale(1 1.09)" font-size="10.30" text-anchor="start" font-weight="bold" fill="#111" stroke="#111" stroke-width="0.25">D</text>
<line x1="35.60" y1="379.10" x2="210.50" y2="379.10" stroke="#000" stroke-width="1.25" stroke-dasharray="3.6 2.2"/>
<line x1="57.66" y1="311.77" x2="57.66" y2="314.13" stroke="#8fafd7" stroke-width="1.0"/>
<line x1="55.06" y1="311.77" x2="60.26" y2="311.77" stroke="#8fafd7" stroke-width="1.0"/>
<line x1="55.06" y1="314.13" x2="60.26" y2="314.13" stroke="#8fafd7" stroke-width="1.0"/>
<line x1="68.69" y1="318.54" x2="68.69" y2="320.89" stroke="#8fafd7" stroke-width="1.0"/>
<line x1="66.09" y1="318.54" x2="71.29" y2="318.54" stroke="#8fafd7" stroke-width="1.0"/>
<line x1="66.09" y1="320.89" x2="71.29" y2="320.89" stroke="#8fafd7" stroke-width="1.0"/>
<line x1="178.99" y1="311.77" x2="178.99" y2="315.89" stroke="#8fafd7" stroke-width="1.0"/>
<line x1="176.39" y1="311.77" x2="181.59" y2="311.77" stroke="#8fafd7" stroke-width="1.0"/>
<line x1="176.39" y1="315.89" x2="181.59" y2="315.89" stroke="#8fafd7" stroke-width="1.0"/>
<polyline points="35.60,320.30 46.63,312.36 57.66,312.95 68.69,319.71 79.72,313.54 90.75,317.95 101.78,310.30 112.81,317.36 123.84,317.95 134.87,317.95 145.90,316.18 156.93,315.01 167.96,315.01 178.99,313.83 190.02,319.71" fill="none" stroke="#8fafd7" stroke-width="1.9" stroke-linejoin="miter"/>
<circle cx="35.60" cy="320.30" r="2.70" fill="#8fafd7"/>
<circle cx="46.63" cy="312.36" r="2.70" fill="#8fafd7"/>
<circle cx="57.66" cy="312.95" r="2.70" fill="#8fafd7"/>
<circle cx="68.69" cy="319.71" r="2.70" fill="#8fafd7"/>
<circle cx="79.72" cy="313.54" r="2.70" fill="#8fafd7"/>
<circle cx="90.75" cy="317.95" r="2.70" fill="#8fafd7"/>
<circle cx="101.78" cy="310.30" r="2.70" fill="#8fafd7"/>
<circle cx="112.81" cy="317.36" r="2.70" fill="#8fafd7"/>
<circle cx="123.84" cy="317.95" r="2.70" fill="#8fafd7"/>
<circle cx="134.87" cy="317.95" r="2.70" fill="#8fafd7"/>
<circle cx="145.90" cy="316.18" r="2.70" fill="#8fafd7"/>
<circle cx="156.93" cy="315.01" r="2.70" fill="#8fafd7"/>
<circle cx="167.96" cy="315.01" r="2.70" fill="#8fafd7"/>
<circle cx="178.99" cy="313.83" r="2.70" fill="#8fafd7"/>
<circle cx="190.02" cy="319.71" r="2.70" fill="#8fafd7"/>
<line x1="57.66" y1="312.36" x2="57.66" y2="318.24" stroke="#a27cc2" stroke-width="1.0"/>
<line x1="55.06" y1="312.36" x2="60.26" y2="312.36" stroke="#a27cc2" stroke-width="1.0"/>
<line x1="55.06" y1="318.24" x2="60.26" y2="318.24" stroke="#a27cc2" stroke-width="1.0"/>
<line x1="68.69" y1="312.66" x2="68.69" y2="319.71" stroke="#a27cc2" stroke-width="1.0"/>
<line x1="66.09" y1="312.66" x2="71.29" y2="312.66" stroke="#a27cc2" stroke-width="1.0"/>
<line x1="66.09" y1="319.71" x2="71.29" y2="319.71" stroke="#a27cc2" stroke-width="1.0"/>
<line x1="79.72" y1="316.77" x2="79.72" y2="319.71" stroke="#a27cc2" stroke-width="1.0"/>
<line x1="77.12" y1="316.77" x2="82.32" y2="316.77" stroke="#a27cc2" stroke-width="1.0"/>
<line x1="77.12" y1="319.71" x2="82.32" y2="319.71" stroke="#a27cc2" stroke-width="1.0"/>
<line x1="90.75" y1="320.01" x2="90.75" y2="325.89" stroke="#a27cc2" stroke-width="1.0"/>
<line x1="88.15" y1="320.01" x2="93.35" y2="320.01" stroke="#a27cc2" stroke-width="1.0"/>
<line x1="88.15" y1="325.89" x2="93.35" y2="325.89" stroke="#a27cc2" stroke-width="1.0"/>
<line x1="101.78" y1="316.77" x2="101.78" y2="322.65" stroke="#a27cc2" stroke-width="1.0"/>
<line x1="99.18" y1="316.77" x2="104.38" y2="316.77" stroke="#a27cc2" stroke-width="1.0"/>
<line x1="99.18" y1="322.65" x2="104.38" y2="322.65" stroke="#a27cc2" stroke-width="1.0"/>
<line x1="112.81" y1="320.30" x2="112.81" y2="325.00" stroke="#a27cc2" stroke-width="1.0"/>
<line x1="110.21" y1="320.30" x2="115.41" y2="320.30" stroke="#a27cc2" stroke-width="1.0"/>
<line x1="110.21" y1="325.00" x2="115.41" y2="325.00" stroke="#a27cc2" stroke-width="1.0"/>
<line x1="145.90" y1="322.06" x2="145.90" y2="324.42" stroke="#a27cc2" stroke-width="1.0"/>
<line x1="143.30" y1="322.06" x2="148.50" y2="322.06" stroke="#a27cc2" stroke-width="1.0"/>
<line x1="143.30" y1="324.42" x2="148.50" y2="324.42" stroke="#a27cc2" stroke-width="1.0"/>
<line x1="156.93" y1="322.06" x2="156.93" y2="327.94" stroke="#a27cc2" stroke-width="1.0"/>
<line x1="154.33" y1="322.06" x2="159.53" y2="322.06" stroke="#a27cc2" stroke-width="1.0"/>
<line x1="154.33" y1="327.94" x2="159.53" y2="327.94" stroke="#a27cc2" stroke-width="1.0"/>
<line x1="167.96" y1="321.48" x2="167.96" y2="326.18" stroke="#a27cc2" stroke-width="1.0"/>
<line x1="165.36" y1="321.48" x2="170.56" y2="321.48" stroke="#a27cc2" stroke-width="1.0"/>
<line x1="165.36" y1="326.18" x2="170.56" y2="326.18" stroke="#a27cc2" stroke-width="1.0"/>
<line x1="178.99" y1="318.83" x2="178.99" y2="322.36" stroke="#a27cc2" stroke-width="1.0"/>
<line x1="176.39" y1="318.83" x2="181.59" y2="318.83" stroke="#a27cc2" stroke-width="1.0"/>
<line x1="176.39" y1="322.36" x2="181.59" y2="322.36" stroke="#a27cc2" stroke-width="1.0"/>
<line x1="190.02" y1="330.30" x2="190.02" y2="335.00" stroke="#a27cc2" stroke-width="1.0"/>
<line x1="187.42" y1="330.30" x2="192.62" y2="330.30" stroke="#a27cc2" stroke-width="1.0"/>
<line x1="187.42" y1="335.00" x2="192.62" y2="335.00" stroke="#a27cc2" stroke-width="1.0"/>
<polyline points="35.60,320.30 46.63,318.24 57.66,315.30 68.69,316.18 79.72,318.24 90.75,322.95 101.78,319.71 112.81,322.65 123.84,323.83 134.87,323.53 145.90,323.24 156.93,325.00 167.96,323.83 178.99,320.59 190.02,332.65" fill="none" stroke="#a27cc2" stroke-width="1.9" stroke-linejoin="miter"/>
<circle cx="35.60" cy="320.30" r="2.70" fill="#a27cc2"/>
<circle cx="46.63" cy="318.24" r="2.70" fill="#a27cc2"/>
<circle cx="57.66" cy="315.30" r="2.70" fill="#a27cc2"/>
<circle cx="68.69" cy="316.18" r="2.70" fill="#a27cc2"/>
<circle cx="79.72" cy="318.24" r="2.70" fill="#a27cc2"/>
<circle cx="90.75" cy="322.95" r="2.70" fill="#a27cc2"/>
<circle cx="101.78" cy="319.71" r="2.70" fill="#a27cc2"/>
<circle cx="112.81" cy="322.65" r="2.70" fill="#a27cc2"/>
<circle cx="123.84" cy="323.83" r="2.70" fill="#a27cc2"/>
<circle cx="134.87" cy="323.53" r="2.70" fill="#a27cc2"/>
<circle cx="145.90" cy="323.24" r="2.70" fill="#a27cc2"/>
<circle cx="156.93" cy="325.00" r="2.70" fill="#a27cc2"/>
<circle cx="167.96" cy="323.83" r="2.70" fill="#a27cc2"/>
<circle cx="178.99" cy="320.59" r="2.70" fill="#a27cc2"/>
<circle cx="190.02" cy="332.65" r="2.70" fill="#a27cc2"/>
<polyline points="35.60,320.30 46.63,317.65 57.66,337.06 68.69,362.05 79.72,380.57 90.75,384.39" fill="none" stroke="#7f7f7f" stroke-width="1.9" stroke-linejoin="miter"/>
<circle cx="35.60" cy="320.30" r="2.70" fill="#7f7f7f"/>
<circle cx="46.63" cy="317.65" r="2.70" fill="#7f7f7f"/>
<circle cx="57.66" cy="337.06" r="2.70" fill="#7f7f7f"/>
<circle cx="68.69" cy="362.05" r="2.70" fill="#7f7f7f"/>
<circle cx="79.72" cy="380.57" r="2.70" fill="#7f7f7f"/>
<circle cx="90.75" cy="384.39" r="2.70" fill="#7f7f7f"/>
<line x1="35.60" y1="290.90" x2="35.60" y2="408.50" stroke="#1a1a1a" stroke-width="1.3"/>
<line x1="30.60" y1="408.50" x2="35.60" y2="408.50" stroke="#1a1a1a" stroke-width="1.3"/>
<text transform="translate(29.80 412.00) scale(1 1.09)" font-size="10.40" text-anchor="end" font-weight="bold" fill="#111" stroke="#111" stroke-width="0.25">70</text>
<line x1="30.60" y1="379.10" x2="35.60" y2="379.10" stroke="#1a1a1a" stroke-width="1.3"/>
<text transform="translate(29.80 382.60) scale(1 1.09)" font-size="10.40" text-anchor="end" font-weight="bold" fill="#111" stroke="#111" stroke-width="0.25">80</text>
<line x1="30.60" y1="349.70" x2="35.60" y2="349.70" stroke="#1a1a1a" stroke-width="1.3"/>
<text transform="translate(29.80 353.20) scale(1 1.09)" font-size="10.40" text-anchor="end" font-weight="bold" fill="#111" stroke="#111" stroke-width="0.25">90</text>
<line x1="30.60" y1="320.30" x2="35.60" y2="320.30" stroke="#1a1a1a" stroke-width="1.3"/>
<text transform="translate(29.80 323.80) scale(1 1.09)" font-size="10.40" text-anchor="end" font-weight="bold" fill="#111" stroke="#111" stroke-width="0.25">100</text>
<line x1="30.60" y1="290.90" x2="35.60" y2="290.90" stroke="#1a1a1a" stroke-width="1.3"/>
<text transform="translate(29.80 294.40) scale(1 1.09)" font-size="10.40" text-anchor="end" font-weight="bold" fill="#111" stroke="#111" stroke-width="0.25">110</text>
<line x1="35.60" y1="408.50" x2="212.08" y2="408.50" stroke="#1a1a1a" stroke-width="1.3"/>
<line x1="35.60" y1="408.50" x2="35.60" y2="413.00" stroke="#1a1a1a" stroke-width="1.3"/>
<text transform="translate(36.30 422.80) scale(1 1.09)" font-size="10.40" text-anchor="middle" font-weight="bold" fill="#111" stroke="#111" stroke-width="0.25">0</text>
<line x1="57.66" y1="408.50" x2="57.66" y2="413.00" stroke="#1a1a1a" stroke-width="1.3"/>
<text transform="translate(58.36 422.80) scale(1 1.09)" font-size="10.40" text-anchor="middle" font-weight="bold" fill="#111" stroke="#111" stroke-width="0.25">2</text>
<line x1="79.72" y1="408.50" x2="79.72" y2="413.00" stroke="#1a1a1a" stroke-width="1.3"/>
<text transform="translate(80.42 422.80) scale(1 1.09)" font-size="10.40" text-anchor="middle" font-weight="bold" fill="#111" stroke="#111" stroke-width="0.25">4</text>
<line x1="101.78" y1="408.50" x2="101.78" y2="413.00" stroke="#1a1a1a" stroke-width="1.3"/>
<text transform="translate(102.48 422.80) scale(1 1.09)" font-size="10.40" text-anchor="middle" font-weight="bold" fill="#111" stroke="#111" stroke-width="0.25">6</text>
<line x1="123.84" y1="408.50" x2="123.84" y2="413.00" stroke="#1a1a1a" stroke-width="1.3"/>
<text transform="translate(124.54 422.80) scale(1 1.09)" font-size="10.40" text-anchor="middle" font-weight="bold" fill="#111" stroke="#111" stroke-width="0.25">8</text>
<line x1="145.90" y1="408.50" x2="145.90" y2="413.00" stroke="#1a1a1a" stroke-width="1.3"/>
<text transform="translate(146.60 422.80) scale(1 1.09)" font-size="10.40" text-anchor="middle" font-weight="bold" fill="#111" stroke="#111" stroke-width="0.25">10</text>
<line x1="167.96" y1="408.50" x2="167.96" y2="413.00" stroke="#1a1a1a" stroke-width="1.3"/>
<text transform="translate(168.66 422.80) scale(1 1.09)" font-size="10.40" text-anchor="middle" font-weight="bold" fill="#111" stroke="#111" stroke-width="0.25">12</text>
<line x1="190.02" y1="408.50" x2="190.02" y2="413.00" stroke="#1a1a1a" stroke-width="1.3"/>
<text transform="translate(190.72 422.80) scale(1 1.09)" font-size="10.40" text-anchor="middle" font-weight="bold" fill="#111" stroke="#111" stroke-width="0.25">14</text>
<line x1="212.08" y1="408.50" x2="212.08" y2="413.00" stroke="#1a1a1a" stroke-width="1.3"/>
<text transform="translate(212.78 422.80) scale(1 1.09)" font-size="10.40" text-anchor="middle" font-weight="bold" fill="#111" stroke="#111" stroke-width="0.25">16</text>
<text transform="translate(128.24 432.80) scale(1 1.09)" font-size="10.60" text-anchor="middle" font-weight="bold" fill="#111" stroke="#111" stroke-width="0.25">Days post infection</text>
<text transform="translate(122.60 285.00) scale(1 1.09)" font-size="10.80" text-anchor="middle" font-weight="bold" fill="#111" stroke="#111" stroke-width="0.25">mRNA-NP</text>
<text transform="translate(7.60 341.40) rotate(-90) scale(1.09 1)" font-size="10.00" text-anchor="middle" font-weight="bold" fill="#111" stroke="#111" stroke-width="0.25">Weight Change (%)</text>
<line x1="80.40" y1="347.60" x2="94.00" y2="347.60" stroke="#7f7f7f" stroke-width="1.9"/>
<circle cx="87.20" cy="347.60" r="3.10" fill="#7f7f7f"/>
<text transform="translate(99.20 351.20) scale(1 1.09)" font-size="11.00" text-anchor="start" font-weight="bold" fill="#111" stroke="#111" stroke-width="0.25">LNP</text>
<line x1="80.40" y1="357.90" x2="94.00" y2="357.90" stroke="#8fafd7" stroke-width="1.9"/>
<circle cx="87.20" cy="357.90" r="3.10" fill="#8fafd7"/>
<text transform="translate(99.20 361.50) scale(1 1.09)" font-size="11.00" text-anchor="start" font-weight="bold" fill="#111" stroke="#111" stroke-width="0.25">(1 μg mRNA-NP)×2</text>
<line x1="80.40" y1="368.20" x2="94.00" y2="368.20" stroke="#a27cc2" stroke-width="1.9"/>
<circle cx="87.20" cy="368.20" r="3.10" fill="#a27cc2"/>
<text transform="translate(99.20 371.80) scale(1 1.09)" font-size="11.00" text-anchor="start" font-weight="bold" fill="#111" stroke="#111" stroke-width="0.25">(5 μg mRNA-NP)×2</text>
<text transform="translate(1.00 286.50) scale(1 1.09)" font-size="10.30" text-anchor="start" font-weight="bold" fill="#111" stroke="#111" stroke-width="0.25">E</text>
<line x1="253.30" y1="378.85" x2="428.00" y2="378.85" stroke="#000" stroke-width="1.25" stroke-dasharray="3.6 2.2"/>
<line x1="275.36" y1="320.44" x2="275.36" y2="322.79" stroke="#8fafd7" stroke-width="1.0"/>
<line x1="272.76" y1="320.44" x2="277.96" y2="320.44" stroke="#8fafd7" stroke-width="1.0"/>
<line x1="272.76" y1="322.79" x2="277.96" y2="322.79" stroke="#8fafd7" stroke-width="1.0"/>
<line x1="286.39" y1="339.23" x2="286.39" y2="346.86" stroke="#8fafd7" stroke-width="1.0"/>
<line x1="283.79" y1="339.23" x2="288.99" y2="339.23" stroke="#8fafd7" stroke-width="1.0"/>
<line x1="283.79" y1="346.86" x2="288.99" y2="346.86" stroke="#8fafd7" stroke-width="1.0"/>
<line x1="297.42" y1="365.94" x2="297.42" y2="368.87" stroke="#8fafd7" stroke-width="1.0"/>
<line x1="294.82" y1="365.94" x2="300.02" y2="365.94" stroke="#8fafd7" stroke-width="1.0"/>
<line x1="294.82" y1="368.87" x2="300.02" y2="368.87" stroke="#8fafd7" stroke-width="1.0"/>
<line x1="308.45" y1="371.81" x2="308.45" y2="373.57" stroke="#8fafd7" stroke-width="1.0"/>
<line x1="305.85" y1="371.81" x2="311.05" y2="371.81" stroke="#8fafd7" stroke-width="1.0"/>
<line x1="305.85" y1="373.57" x2="311.05" y2="373.57" stroke="#8fafd7" stroke-width="1.0"/>
<line x1="319.48" y1="373.27" x2="319.48" y2="375.03" stroke="#8fafd7" stroke-width="1.0"/>
<line x1="316.88" y1="373.27" x2="322.08" y2="373.27" stroke="#8fafd7" stroke-width="1.0"/>
<line x1="316.88" y1="375.03" x2="322.08" y2="375.03" stroke="#8fafd7" stroke-width="1.0"/>
<line x1="330.51" y1="356.25" x2="330.51" y2="358.60" stroke="#8fafd7" stroke-width="1.0"/>
<line x1="327.91" y1="356.25" x2="333.11" y2="356.25" stroke="#8fafd7" stroke-width="1.0"/>
<line x1="327.91" y1="358.60" x2="333.11" y2="358.60" stroke="#8fafd7" stroke-width="1.0"/>
<line x1="341.54" y1="352.73" x2="341.54" y2="355.08" stroke="#8fafd7" stroke-width="1.0"/>
<line x1="338.94" y1="352.73" x2="344.14" y2="352.73" stroke="#8fafd7" stroke-width="1.0"/>
<line x1="338.94" y1="355.08" x2="344.14" y2="355.08" stroke="#8fafd7" stroke-width="1.0"/>
<polyline points="253.30,320.15 264.33,318.98 275.36,321.62 286.39,343.04 297.42,367.40 308.45,372.69 319.48,374.15 330.51,357.42 341.54,353.90 352.57,344.51 363.60,339.52 374.63,334.53 385.66,338.05 396.69,332.48 407.72,339.81" fill="none" stroke="#8fafd7" stroke-width="1.9" stroke-linejoin="miter"/>
<rect x="250.60" y="317.45" width="5.40" height="5.40" fill="#8fafd7"/>
<rect x="261.63" y="316.28" width="5.40" height="5.40" fill="#8fafd7"/>
<rect x="272.66" y="318.92" width="5.40" height="5.40" fill="#8fafd7"/>
<rect x="283.69" y="340.34" width="5.40" height="5.40" fill="#8fafd7"/>
<rect x="294.72" y="364.70" width="5.40" height="5.40" fill="#8fafd7"/>
<rect x="305.75" y="369.99" width="5.40" height="5.40" fill="#8fafd7"/>
<rect x="316.78" y="371.45" width="5.40" height="5.40" fill="#8fafd7"/>
<rect x="327.81" y="354.72" width="5.40" height="5.40" fill="#8fafd7"/>
<rect x="338.84" y="351.20" width="5.40" height="5.40" fill="#8fafd7"/>
<rect x="349.87" y="341.81" width="5.40" height="5.40" fill="#8fafd7"/>
<rect x="360.90" y="336.82" width="5.40" height="5.40" fill="#8fafd7"/>
<rect x="371.93" y="331.83" width="5.40" height="5.40" fill="#8fafd7"/>
<rect x="382.96" y="335.35" width="5.40" height="5.40" fill="#8fafd7"/>
<rect x="393.99" y="329.78" width="5.40" height="5.40" fill="#8fafd7"/>
<rect x="405.02" y="337.11" width="5.40" height="5.40" fill="#8fafd7"/>
<line x1="264.33" y1="317.22" x2="264.33" y2="318.98" stroke="#a27cc2" stroke-width="1.0"/>
<line x1="261.73" y1="317.22" x2="266.93" y2="317.22" stroke="#a27cc2" stroke-width="1.0"/>
<line x1="261.73" y1="318.98" x2="266.93" y2="318.98" stroke="#a27cc2" stroke-width="1.0"/>
<line x1="275.36" y1="313.11" x2="275.36" y2="321.32" stroke="#a27cc2" stroke-width="1.0"/>
<line x1="272.76" y1="313.11" x2="277.96" y2="313.11" stroke="#a27cc2" stroke-width="1.0"/>
<line x1="272.76" y1="321.32" x2="277.96" y2="321.32" stroke="#a27cc2" stroke-width="1.0"/>
<line x1="286.39" y1="316.63" x2="286.39" y2="326.02" stroke="#a27cc2" stroke-width="1.0"/>
<line x1="283.79" y1="316.63" x2="288.99" y2="316.63" stroke="#a27cc2" stroke-width="1.0"/>
<line x1="283.79" y1="326.02" x2="288.99" y2="326.02" stroke="#a27cc2" stroke-width="1.0"/>
<line x1="297.42" y1="324.26" x2="297.42" y2="340.11" stroke="#a27cc2" stroke-width="1.0"/>
<line x1="294.82" y1="324.26" x2="300.02" y2="324.26" stroke="#a27cc2" stroke-width="1.0"/>
<line x1="294.82" y1="340.11" x2="300.02" y2="340.11" stroke="#a27cc2" stroke-width="1.0"/>
<line x1="308.45" y1="325.43" x2="308.45" y2="345.98" stroke="#a27cc2" stroke-width="1.0"/>
<line x1="305.85" y1="325.43" x2="311.05" y2="325.43" stroke="#a27cc2" stroke-width="1.0"/>
<line x1="305.85" y1="345.98" x2="311.05" y2="345.98" stroke="#a27cc2" stroke-width="1.0"/>
<line x1="319.48" y1="327.19" x2="319.48" y2="343.63" stroke="#a27cc2" stroke-width="1.0"/>
<line x1="316.88" y1="327.19" x2="322.08" y2="327.19" stroke="#a27cc2" stroke-width="1.0"/>
<line x1="316.88" y1="343.63" x2="322.08" y2="343.63" stroke="#a27cc2" stroke-width="1.0"/>
<line x1="330.51" y1="320.74" x2="330.51" y2="344.22" stroke="#a27cc2" stroke-width="1.0"/>
<line x1="327.91" y1="320.74" x2="333.11" y2="320.74" stroke="#a27cc2" stroke-width="1.0"/>
<line x1="327.91" y1="344.22" x2="333.11" y2="344.22" stroke="#a27cc2" stroke-width="1.0"/>
<line x1="341.54" y1="319.27" x2="341.54" y2="326.90" stroke="#a27cc2" stroke-width="1.0"/>
<line x1="338.94" y1="319.27" x2="344.14" y2="319.27" stroke="#a27cc2" stroke-width="1.0"/>
<line x1="338.94" y1="326.90" x2="344.14" y2="326.90" stroke="#a27cc2" stroke-width="1.0"/>
<line x1="352.57" y1="316.04" x2="352.57" y2="322.50" stroke="#a27cc2" stroke-width="1.0"/>
<line x1="349.97" y1="316.04" x2="355.17" y2="316.04" stroke="#a27cc2" stroke-width="1.0"/>
<line x1="349.97" y1="322.50" x2="355.17" y2="322.50" stroke="#a27cc2" stroke-width="1.0"/>
<line x1="363.60" y1="316.92" x2="363.60" y2="323.97" stroke="#a27cc2" stroke-width="1.0"/>
<line x1="361.00" y1="316.92" x2="366.20" y2="316.92" stroke="#a27cc2" stroke-width="1.0"/>
<line x1="361.00" y1="323.97" x2="366.20" y2="323.97" stroke="#a27cc2" stroke-width="1.0"/>
<line x1="374.63" y1="319.56" x2="374.63" y2="324.85" stroke="#a27cc2" stroke-width="1.0"/>
<line x1="372.03" y1="319.56" x2="377.23" y2="319.56" stroke="#a27cc2" stroke-width="1.0"/>
<line x1="372.03" y1="324.85" x2="377.23" y2="324.85" stroke="#a27cc2" stroke-width="1.0"/>
<line x1="385.66" y1="322.79" x2="385.66" y2="326.31" stroke="#a27cc2" stroke-width="1.0"/>
<line x1="383.06" y1="322.79" x2="388.26" y2="322.79" stroke="#a27cc2" stroke-width="1.0"/>
<line x1="383.06" y1="326.31" x2="388.26" y2="326.31" stroke="#a27cc2" stroke-width="1.0"/>
<line x1="396.69" y1="320.74" x2="396.69" y2="324.26" stroke="#a27cc2" stroke-width="1.0"/>
<line x1="394.09" y1="320.74" x2="399.29" y2="320.74" stroke="#a27cc2" stroke-width="1.0"/>
<line x1="394.09" y1="324.26" x2="399.29" y2="324.26" stroke="#a27cc2" stroke-width="1.0"/>
<line x1="407.72" y1="321.32" x2="407.72" y2="326.02" stroke="#a27cc2" stroke-width="1.0"/>
<line x1="405.12" y1="321.32" x2="410.32" y2="321.32" stroke="#a27cc2" stroke-width="1.0"/>
<line x1="405.12" y1="326.02" x2="410.32" y2="326.02" stroke="#a27cc2" stroke-width="1.0"/>
<polyline points="253.30,320.15 264.33,318.10 275.36,317.22 286.39,321.32 297.42,332.18 308.45,335.71 319.48,335.41 330.51,332.48 341.54,323.08 352.57,319.27 363.60,320.44 374.63,322.20 385.66,324.55 396.69,322.50 407.72,323.67" fill="none" stroke="#a27cc2" stroke-width="1.9" stroke-linejoin="miter"/>
<rect x="250.60" y="317.45" width="5.40" height="5.40" fill="#a27cc2"/>
<rect x="261.63" y="315.40" width="5.40" height="5.40" fill="#a27cc2"/>
<rect x="272.66" y="314.52" width="5.40" height="5.40" fill="#a27cc2"/>
<rect x="283.69" y="318.62" width="5.40" height="5.40" fill="#a27cc2"/>
<rect x="294.72" y="329.48" width="5.40" height="5.40" fill="#a27cc2"/>
<rect x="305.75" y="333.01" width="5.40" height="5.40" fill="#a27cc2"/>
<rect x="316.78" y="332.71" width="5.40" height="5.40" fill="#a27cc2"/>
<rect x="327.81" y="329.78" width="5.40" height="5.40" fill="#a27cc2"/>
<rect x="338.84" y="320.38" width="5.40" height="5.40" fill="#a27cc2"/>
<rect x="349.87" y="316.57" width="5.40" height="5.40" fill="#a27cc2"/>
<rect x="360.90" y="317.74" width="5.40" height="5.40" fill="#a27cc2"/>
<rect x="371.93" y="319.50" width="5.40" height="5.40" fill="#a27cc2"/>
<rect x="382.96" y="321.85" width="5.40" height="5.40" fill="#a27cc2"/>
<rect x="393.99" y="319.80" width="5.40" height="5.40" fill="#a27cc2"/>
<rect x="405.02" y="320.97" width="5.40" height="5.40" fill="#a27cc2"/>
<polyline points="253.30,320.15 264.33,317.51 275.36,336.88 286.39,361.83 297.42,380.61 308.45,384.13" fill="none" stroke="#7f7f7f" stroke-width="1.9" stroke-linejoin="miter"/>
<rect x="250.60" y="317.45" width="5.40" height="5.40" fill="#7f7f7f"/>
<rect x="261.63" y="314.81" width="5.40" height="5.40" fill="#7f7f7f"/>
<rect x="272.66" y="334.18" width="5.40" height="5.40" fill="#7f7f7f"/>
<rect x="283.69" y="359.13" width="5.40" height="5.40" fill="#7f7f7f"/>
<rect x="294.72" y="377.91" width="5.40" height="5.40" fill="#7f7f7f"/>
<rect x="305.75" y="381.43" width="5.40" height="5.40" fill="#7f7f7f"/>
<line x1="253.30" y1="290.80" x2="253.30" y2="408.20" stroke="#1a1a1a" stroke-width="1.3"/>
<line x1="248.30" y1="408.20" x2="253.30" y2="408.20" stroke="#1a1a1a" stroke-width="1.3"/>
<text transform="translate(247.50 411.70) scale(1 1.09)" font-size="10.40" text-anchor="end" font-weight="bold" fill="#111" stroke="#111" stroke-width="0.25">70</text>
<line x1="248.30" y1="378.85" x2="253.30" y2="378.85" stroke="#1a1a1a" stroke-width="1.3"/>
<text transform="translate(247.50 382.35) scale(1 1.09)" font-size="10.40" text-anchor="end" font-weight="bold" fill="#111" stroke="#111" stroke-width="0.25">80</text>
<line x1="248.30" y1="349.50" x2="253.30" y2="349.50" stroke="#1a1a1a" stroke-width="1.3"/>
<text transform="translate(247.50 353.00) scale(1 1.09)" font-size="10.40" text-anchor="end" font-weight="bold" fill="#111" stroke="#111" stroke-width="0.25">90</text>
<line x1="248.30" y1="320.15" x2="253.30" y2="320.15" stroke="#1a1a1a" stroke-width="1.3"/>
<text transform="translate(247.50 323.65) scale(1 1.09)" font-size="10.40" text-anchor="end" font-weight="bold" fill="#111" stroke="#111" stroke-width="0.25">100</text>
<line x1="248.30" y1="290.80" x2="253.30" y2="290.80" stroke="#1a1a1a" stroke-width="1.3"/>
<text transform="translate(247.50 294.30) scale(1 1.09)" font-size="10.40" text-anchor="end" font-weight="bold" fill="#111" stroke="#111" stroke-width="0.25">110</text>
<line x1="253.30" y1="408.20" x2="429.78" y2="408.20" stroke="#1a1a1a" stroke-width="1.3"/>
<line x1="253.30" y1="408.20" x2="253.30" y2="412.70" stroke="#1a1a1a" stroke-width="1.3"/>
<text transform="translate(254.00 422.50) scale(1 1.09)" font-size="10.40" text-anchor="middle" font-weight="bold" fill="#111" stroke="#111" stroke-width="0.25">0</text>
<line x1="275.36" y1="408.20" x2="275.36" y2="412.70" stroke="#1a1a1a" stroke-width="1.3"/>
<text transform="translate(276.06 422.50) scale(1 1.09)" font-size="10.40" text-anchor="middle" font-weight="bold" fill="#111" stroke="#111" stroke-width="0.25">2</text>
<line x1="297.42" y1="408.20" x2="297.42" y2="412.70" stroke="#1a1a1a" stroke-width="1.3"/>
<text transform="translate(298.12 422.50) scale(1 1.09)" font-size="10.40" text-anchor="middle" font-weight="bold" fill="#111" stroke="#111" stroke-width="0.25">4</text>
<line x1="319.48" y1="408.20" x2="319.48" y2="412.70" stroke="#1a1a1a" stroke-width="1.3"/>
<text transform="translate(320.18 422.50) scale(1 1.09)" font-size="10.40" text-anchor="middle" font-weight="bold" fill="#111" stroke="#111" stroke-width="0.25">6</text>
<line x1="341.54" y1="408.20" x2="341.54" y2="412.70" stroke="#1a1a1a" stroke-width="1.3"/>
<text transform="translate(342.24 422.50) scale(1 1.09)" font-size="10.40" text-anchor="middle" font-weight="bold" fill="#111" stroke="#111" stroke-width="0.25">8</text>
<line x1="363.60" y1="408.20" x2="363.60" y2="412.70" stroke="#1a1a1a" stroke-width="1.3"/>
<text transform="translate(364.30 422.50) scale(1 1.09)" font-size="10.40" text-anchor="middle" font-weight="bold" fill="#111" stroke="#111" stroke-width="0.25">10</text>
<line x1="385.66" y1="408.20" x2="385.66" y2="412.70" stroke="#1a1a1a" stroke-width="1.3"/>
<text transform="translate(386.36 422.50) scale(1 1.09)" font-size="10.40" text-anchor="middle" font-weight="bold" fill="#111" stroke="#111" stroke-width="0.25">12</text>
<line x1="407.72" y1="408.20" x2="407.72" y2="412.70" stroke="#1a1a1a" stroke-width="1.3"/>
<text transform="translate(408.42 422.50) scale(1 1.09)" font-size="10.40" text-anchor="middle" font-weight="bold" fill="#111" stroke="#111" stroke-width="0.25">14</text>
<line x1="429.78" y1="408.20" x2="429.78" y2="412.70" stroke="#1a1a1a" stroke-width="1.3"/>
<text transform="translate(430.48 422.50) scale(1 1.09)" font-size="10.40" text-anchor="middle" font-weight="bold" fill="#111" stroke="#111" stroke-width="0.25">16</text>
<text transform="translate(345.94 432.50) scale(1 1.09)" font-size="10.60" text-anchor="middle" font-weight="bold" fill="#111" stroke="#111" stroke-width="0.25">Days post infection</text>
<text transform="translate(338.80 285.30) scale(1 1.09)" font-size="10.80" text-anchor="middle" font-weight="bold" fill="#111" stroke="#111" stroke-width="0.25">mRNA-GPC</text>
<text transform="translate(227.00 341.40) rotate(-90) scale(1.09 1)" font-size="10.00" text-anchor="middle" font-weight="bold" fill="#111" stroke="#111" stroke-width="0.25">Weight Change (%)</text>
<line x1="326.40" y1="375.10" x2="340.00" y2="375.10" stroke="#7f7f7f" stroke-width="1.9"/>
<rect x="330.10" y="372.00" width="6.20" height="6.20" fill="#7f7f7f"/>
<text transform="translate(344.50 377.70) scale(1 1.09)" font-size="9.70" text-anchor="start" font-weight="bold" fill="#111" stroke="#111" stroke-width="0.25">LNP</text>
<line x1="326.40" y1="386.00" x2="340.00" y2="386.00" stroke="#8fafd7" stroke-width="1.9"/>
<rect x="330.10" y="382.90" width="6.20" height="6.20" fill="#8fafd7"/>
<text transform="translate(344.50 388.60) scale(1 1.09)" font-size="9.70" text-anchor="start" font-weight="bold" fill="#111" stroke="#111" stroke-width="0.25">(1 μg mRNA-GPC)×2</text>
<line x1="326.40" y1="396.90" x2="340.00" y2="396.90" stroke="#a27cc2" stroke-width="1.9"/>
<rect x="330.10" y="393.80" width="6.20" height="6.20" fill="#a27cc2"/>
<text transform="translate(344.50 399.50) scale(1 1.09)" font-size="9.70" text-anchor="start" font-weight="bold" fill="#111" stroke="#111" stroke-width="0.25">(5 μg mRNA-GPC)×2</text>
<text transform="translate(218.60 286.50) scale(1 1.09)" font-size="10.30" text-anchor="start" font-weight="bold" fill="#111" stroke="#111" stroke-width="0.25">F</text>
<line x1="484.50" y1="377.32" x2="658.00" y2="377.32" stroke="#000" stroke-width="1.25" stroke-dasharray="3.6 2.2"/>
<polyline points="484.50,318.57 495.53,315.34 506.56,318.28 517.59,321.22 528.62,321.51 539.65,321.51 550.68,325.62 561.71,321.22 572.74,322.98 583.77,319.75 594.80,325.04 605.83,322.98 616.86,320.34 627.89,319.75 638.92,324.74" fill="none" stroke="#8fafd7" stroke-width="1.9" stroke-linejoin="miter"/>
<path d="M484.50,315.32 L487.75,318.57 L484.50,321.82 L481.25,318.57Z" fill="#8fafd7"/>
<path d="M495.53,312.09 L498.78,315.34 L495.53,318.59 L492.28,315.34Z" fill="#8fafd7"/>
<path d="M506.56,315.03 L509.81,318.28 L506.56,321.53 L503.31,318.28Z" fill="#8fafd7"/>
<path d="M517.59,317.97 L520.84,321.22 L517.59,324.47 L514.34,321.22Z" fill="#8fafd7"/>
<path d="M528.62,318.26 L531.87,321.51 L528.62,324.76 L525.37,321.51Z" fill="#8fafd7"/>
<path d="M539.65,318.26 L542.90,321.51 L539.65,324.76 L536.40,321.51Z" fill="#8fafd7"/>
<path d="M550.68,322.38 L553.93,325.62 L550.68,328.88 L547.43,325.62Z" fill="#8fafd7"/>
<path d="M561.71,317.97 L564.96,321.22 L561.71,324.47 L558.46,321.22Z" fill="#8fafd7"/>
<path d="M572.74,319.73 L575.99,322.98 L572.74,326.23 L569.49,322.98Z" fill="#8fafd7"/>
<path d="M583.77,316.50 L587.02,319.75 L583.77,323.00 L580.52,319.75Z" fill="#8fafd7"/>
<path d="M594.80,321.79 L598.05,325.04 L594.80,328.29 L591.55,325.04Z" fill="#8fafd7"/>
<path d="M605.83,319.73 L609.08,322.98 L605.83,326.23 L602.58,322.98Z" fill="#8fafd7"/>
<path d="M616.86,317.09 L620.11,320.34 L616.86,323.59 L613.61,320.34Z" fill="#8fafd7"/>
<path d="M627.89,316.50 L631.14,319.75 L627.89,323.00 L624.64,319.75Z" fill="#8fafd7"/>
<path d="M638.92,321.49 L642.17,324.74 L638.92,327.99 L635.67,324.74Z" fill="#8fafd7"/>
<polyline points="484.50,318.57 495.53,311.82 506.56,311.82 517.59,314.76 528.62,317.99 539.65,324.16 550.68,320.04 561.71,319.46 572.74,320.04 583.77,319.46 594.80,321.51 605.83,321.51 616.86,324.16 627.89,317.99 638.92,318.87" fill="none" stroke="#a27cc2" stroke-width="1.9" stroke-linejoin="miter"/>
<path d="M484.50,315.32 L487.75,318.57 L484.50,321.82 L481.25,318.57Z" fill="#a27cc2"/>
<path d="M495.53,308.57 L498.78,311.82 L495.53,315.07 L492.28,311.82Z" fill="#a27cc2"/>
<path d="M506.56,308.57 L509.81,311.82 L506.56,315.07 L503.31,311.82Z" fill="#a27cc2"/>
<path d="M517.59,311.51 L520.84,314.76 L517.59,318.01 L514.34,314.76Z" fill="#a27cc2"/>
<path d="M528.62,314.74 L531.87,317.99 L528.62,321.24 L525.37,317.99Z" fill="#a27cc2"/>
<path d="M539.65,320.91 L542.90,324.16 L539.65,327.41 L536.40,324.16Z" fill="#a27cc2"/>
<path d="M550.68,316.79 L553.93,320.04 L550.68,323.29 L547.43,320.04Z" fill="#a27cc2"/>
<path d="M561.71,316.21 L564.96,319.46 L561.71,322.71 L558.46,319.46Z" fill="#a27cc2"/>
<path d="M572.74,316.79 L575.99,320.04 L572.74,323.29 L569.49,320.04Z" fill="#a27cc2"/>
<path d="M583.77,316.21 L587.02,319.46 L583.77,322.71 L580.52,319.46Z" fill="#a27cc2"/>
<path d="M594.80,318.26 L598.05,321.51 L594.80,324.76 L591.55,321.51Z" fill="#a27cc2"/>
<path d="M605.83,318.26 L609.08,321.51 L605.83,324.76 L602.58,321.51Z" fill="#a27cc2"/>
<path d="M616.86,320.91 L620.11,324.16 L616.86,327.41 L613.61,324.16Z" fill="#a27cc2"/>
<path d="M627.89,314.74 L631.14,317.99 L627.89,321.24 L624.64,317.99Z" fill="#a27cc2"/>
<path d="M638.92,315.62 L642.17,318.87 L638.92,322.12 L635.67,318.87Z" fill="#a27cc2"/>
<polyline points="484.50,318.57 495.53,316.23 506.56,335.32 517.59,360.29 528.62,378.50 539.65,382.61" fill="none" stroke="#7f7f7f" stroke-width="1.9" stroke-linejoin="miter"/>
<path d="M484.50,315.32 L487.75,318.57 L484.50,321.82 L481.25,318.57Z" fill="#7f7f7f"/>
<path d="M495.53,312.98 L498.78,316.23 L495.53,319.48 L492.28,316.23Z" fill="#7f7f7f"/>
<path d="M506.56,332.07 L509.81,335.32 L506.56,338.57 L503.31,335.32Z" fill="#7f7f7f"/>
<path d="M517.59,357.04 L520.84,360.29 L517.59,363.54 L514.34,360.29Z" fill="#7f7f7f"/>
<path d="M528.62,375.25 L531.87,378.50 L528.62,381.75 L525.37,378.50Z" fill="#7f7f7f"/>
<path d="M539.65,379.36 L542.90,382.61 L539.65,385.86 L536.40,382.61Z" fill="#7f7f7f"/>
<line x1="484.50" y1="289.20" x2="484.50" y2="406.70" stroke="#1a1a1a" stroke-width="1.3"/>
<line x1="479.50" y1="406.70" x2="484.50" y2="406.70" stroke="#1a1a1a" stroke-width="1.3"/>
<text transform="translate(478.70 410.20) scale(1 1.09)" font-size="10.40" text-anchor="end" font-weight="bold" fill="#111" stroke="#111" stroke-width="0.25">70</text>
<line x1="479.50" y1="377.32" x2="484.50" y2="377.32" stroke="#1a1a1a" stroke-width="1.3"/>
<text transform="translate(478.70 380.82) scale(1 1.09)" font-size="10.40" text-anchor="end" font-weight="bold" fill="#111" stroke="#111" stroke-width="0.25">80</text>
<line x1="479.50" y1="347.95" x2="484.50" y2="347.95" stroke="#1a1a1a" stroke-width="1.3"/>
<text transform="translate(478.70 351.45) scale(1 1.09)" font-size="10.40" text-anchor="end" font-weight="bold" fill="#111" stroke="#111" stroke-width="0.25">90</text>
<line x1="479.50" y1="318.57" x2="484.50" y2="318.57" stroke="#1a1a1a" stroke-width="1.3"/>
<text transform="translate(478.70 322.07) scale(1 1.09)" font-size="10.40" text-anchor="end" font-weight="bold" fill="#111" stroke="#111" stroke-width="0.25">100</text>
<line x1="479.50" y1="289.20" x2="484.50" y2="289.20" stroke="#1a1a1a" stroke-width="1.3"/>
<text transform="translate(478.70 292.70) scale(1 1.09)" font-size="10.40" text-anchor="end" font-weight="bold" fill="#111" stroke="#111" stroke-width="0.25">110</text>
<line x1="484.50" y1="406.70" x2="660.98" y2="406.70" stroke="#1a1a1a" stroke-width="1.3"/>
<line x1="484.50" y1="406.70" x2="484.50" y2="411.20" stroke="#1a1a1a" stroke-width="1.3"/>
<text transform="translate(485.20 421.00) scale(1 1.09)" font-size="10.40" text-anchor="middle" font-weight="bold" fill="#111" stroke="#111" stroke-width="0.25">0</text>
<line x1="506.56" y1="406.70" x2="506.56" y2="411.20" stroke="#1a1a1a" stroke-width="1.3"/>
<text transform="translate(507.26 421.00) scale(1 1.09)" font-size="10.40" text-anchor="middle" font-weight="bold" fill="#111" stroke="#111" stroke-width="0.25">2</text>
<line x1="528.62" y1="406.70" x2="528.62" y2="411.20" stroke="#1a1a1a" stroke-width="1.3"/>
<text transform="translate(529.32 421.00) scale(1 1.09)" font-size="10.40" text-anchor="middle" font-weight="bold" fill="#111" stroke="#111" stroke-width="0.25">4</text>
<line x1="550.68" y1="406.70" x2="550.68" y2="411.20" stroke="#1a1a1a" stroke-width="1.3"/>
<text transform="translate(551.38 421.00) scale(1 1.09)" font-size="10.40" text-anchor="middle" font-weight="bold" fill="#111" stroke="#111" stroke-width="0.25">6</text>
<line x1="572.74" y1="406.70" x2="572.74" y2="411.20" stroke="#1a1a1a" stroke-width="1.3"/>
<text transform="translate(573.44 421.00) scale(1 1.09)" font-size="10.40" text-anchor="middle" font-weight="bold" fill="#111" stroke="#111" stroke-width="0.25">8</text>
<line x1="594.80" y1="406.70" x2="594.80" y2="411.20" stroke="#1a1a1a" stroke-width="1.3"/>
<text transform="translate(595.50 421.00) scale(1 1.09)" font-size="10.40" text-anchor="middle" font-weight="bold" fill="#111" stroke="#111" stroke-width="0.25">10</text>
<line x1="616.86" y1="406.70" x2="616.86" y2="411.20" stroke="#1a1a1a" stroke-width="1.3"/>
<text transform="translate(617.56 421.00) scale(1 1.09)" font-size="10.40" text-anchor="middle" font-weight="bold" fill="#111" stroke="#111" stroke-width="0.25">12</text>
<line x1="638.92" y1="406.70" x2="638.92" y2="411.20" stroke="#1a1a1a" stroke-width="1.3"/>
<text transform="translate(639.62 421.00) scale(1 1.09)" font-size="10.40" text-anchor="middle" font-weight="bold" fill="#111" stroke="#111" stroke-width="0.25">14</text>
<line x1="660.98" y1="406.70" x2="660.98" y2="411.20" stroke="#1a1a1a" stroke-width="1.3"/>
<text transform="translate(661.68 421.00) scale(1 1.09)" font-size="10.40" text-anchor="middle" font-weight="bold" fill="#111" stroke="#111" stroke-width="0.25">16</text>
<text transform="translate(577.14 431.00) scale(1 1.09)" font-size="10.60" text-anchor="middle" font-weight="bold" fill="#111" stroke="#111" stroke-width="0.25">Days post infection</text>
<text transform="translate(569.20 283.80) scale(1 1.09)" font-size="10.80" text-anchor="middle" font-weight="bold" fill="#111" stroke="#111" stroke-width="0.25">mRNA-NP+mRNA-GPC</text>
<text transform="translate(457.00 344.60) rotate(-90) scale(1.09 1)" font-size="9.95" text-anchor="middle" font-weight="bold" fill="#111" stroke="#111" stroke-width="0.25">Weight Change (%)</text>
<line x1="527.80" y1="339.60" x2="541.40" y2="339.60" stroke="#7f7f7f" stroke-width="1.9"/>
<path d="M534.60,335.96 L538.24,339.60 L534.60,343.24 L530.96,339.60Z" fill="#7f7f7f"/>
<text transform="translate(543.60 341.70) scale(1 1.09)" font-size="8.20" text-anchor="start" font-weight="bold" fill="#111" stroke="#111" stroke-width="0.25">LNP</text>
<line x1="527.80" y1="351.15" x2="541.40" y2="351.15" stroke="#8fafd7" stroke-width="1.9"/>
<path d="M534.60,347.51 L538.24,351.15 L534.60,354.79 L530.96,351.15Z" fill="#8fafd7"/>
<text transform="translate(543.60 353.25) scale(1 1.09)" font-size="8.20" text-anchor="start" font-weight="bold" fill="#111" stroke="#111" stroke-width="0.25">(1 μg mRNA-NP)+(1 μg mRNA-GPC)</text>
<line x1="527.80" y1="362.70" x2="541.40" y2="362.70" stroke="#a27cc2" stroke-width="1.9"/>
<path d="M534.60,359.06 L538.24,362.70 L534.60,366.34 L530.96,362.70Z" fill="#a27cc2"/>
<text transform="translate(543.60 364.80) scale(1 1.09)" font-size="8.20" text-anchor="start" font-weight="bold" fill="#111" stroke="#111" stroke-width="0.25">(5 μg mRNA-NP)+(5 μg mRNA-GPC)</text>
<text transform="translate(448.00 286.50) scale(1 1.09)" font-size="10.30" text-anchor="start" font-weight="bold" fill="#111" stroke="#111" stroke-width="0.25">G</text>
<rect x="46.90" y="515.30" width="23.90" height="131.00" fill="#b5b6b4"/>
<rect x="85.70" y="621.00" width="23.80" height="25.30" fill="#8da8cc"/>
<rect x="124.30" y="621.00" width="23.70" height="25.30" fill="#9e7bba"/>
<line x1="34.40" y1="615.00" x2="160.20" y2="615.00" stroke="#000" stroke-width="1.8" stroke-dasharray="5.3 4.2"/>
<text transform="translate(162.70 618.70) scale(1 1.09)" font-size="10.30" text-anchor="start" font-weight="bold" fill="#111" stroke="#111" stroke-width="0.25">LOD</text>
<line x1="58.90" y1="511.40" x2="58.90" y2="522.10" stroke="#222" stroke-width="1.1"/>
<line x1="53.00" y1="511.40" x2="64.80" y2="511.40" stroke="#222" stroke-width="1.1"/>
<line x1="53.00" y1="522.10" x2="64.80" y2="522.10" stroke="#222" stroke-width="1.1"/>
<circle cx="49.50" cy="513.50" r="2.85" fill="#000"/>
<circle cx="55.60" cy="515.30" r="2.85" fill="#000"/>
<circle cx="61.90" cy="515.00" r="2.85" fill="#000"/>
<circle cx="68.00" cy="509.80" r="2.85" fill="#000"/>
<circle cx="68.00" cy="516.90" r="2.85" fill="#000"/>
<circle cx="58.70" cy="536.10" r="2.85" fill="#000"/>
<circle cx="88.90" cy="620.40" r="2.85" fill="#000"/>
<circle cx="92.46" cy="620.40" r="2.85" fill="#000"/>
<circle cx="96.02" cy="620.40" r="2.85" fill="#000"/>
<circle cx="99.58" cy="620.40" r="2.85" fill="#000"/>
<circle cx="103.14" cy="620.40" r="2.85" fill="#000"/>
<circle cx="106.70" cy="620.40" r="2.85" fill="#000"/>
<circle cx="127.30" cy="620.40" r="2.85" fill="#000"/>
<circle cx="130.84" cy="620.40" r="2.85" fill="#000"/>
<circle cx="134.38" cy="620.40" r="2.85" fill="#000"/>
<circle cx="137.92" cy="620.40" r="2.85" fill="#000"/>
<circle cx="141.46" cy="620.40" r="2.85" fill="#000"/>
<circle cx="145.00" cy="620.40" r="2.85" fill="#000"/>
<line x1="34.40" y1="458.38" x2="34.40" y2="646.90" stroke="#1a1a1a" stroke-width="1.3"/>
<line x1="27.90" y1="646.30" x2="34.40" y2="646.30" stroke="#1a1a1a" stroke-width="1.3"/>
<text transform="translate(27.10 650.00) scale(1 1.09)" font-size="10.40" text-anchor="end" font-weight="bold" fill="#111" stroke="#111" stroke-width="0.25">0</text>
<line x1="27.90" y1="630.64" x2="34.40" y2="630.64" stroke="#1a1a1a" stroke-width="1.3"/>
<text transform="translate(27.10 634.34) scale(1 1.09)" font-size="10.40" text-anchor="end" font-weight="bold" fill="#111" stroke="#111" stroke-width="0.25">1</text>
<line x1="27.90" y1="614.98" x2="34.40" y2="614.98" stroke="#1a1a1a" stroke-width="1.3"/>
<text transform="translate(27.10 618.68) scale(1 1.09)" font-size="10.40" text-anchor="end" font-weight="bold" fill="#111" stroke="#111" stroke-width="0.25">2</text>
<line x1="27.90" y1="599.32" x2="34.40" y2="599.32" stroke="#1a1a1a" stroke-width="1.3"/>
<text transform="translate(27.10 603.02) scale(1 1.09)" font-size="10.40" text-anchor="end" font-weight="bold" fill="#111" stroke="#111" stroke-width="0.25">3</text>
<line x1="27.90" y1="583.66" x2="34.40" y2="583.66" stroke="#1a1a1a" stroke-width="1.3"/>
<text transform="translate(27.10 587.36) scale(1 1.09)" font-size="10.40" text-anchor="end" font-weight="bold" fill="#111" stroke="#111" stroke-width="0.25">4</text>
<line x1="27.90" y1="568.00" x2="34.40" y2="568.00" stroke="#1a1a1a" stroke-width="1.3"/>
<text transform="translate(27.10 571.70) scale(1 1.09)" font-size="10.40" text-anchor="end" font-weight="bold" fill="#111" stroke="#111" stroke-width="0.25">5</text>
<line x1="27.90" y1="552.34" x2="34.40" y2="552.34" stroke="#1a1a1a" stroke-width="1.3"/>
<text transform="translate(27.10 556.04) scale(1 1.09)" font-size="10.40" text-anchor="end" font-weight="bold" fill="#111" stroke="#111" stroke-width="0.25">6</text>
<line x1="27.90" y1="536.68" x2="34.40" y2="536.68" stroke="#1a1a1a" stroke-width="1.3"/>
<text transform="translate(27.10 540.38) scale(1 1.09)" font-size="10.40" text-anchor="end" font-weight="bold" fill="#111" stroke="#111" stroke-width="0.25">7</text>
<line x1="27.90" y1="521.02" x2="34.40" y2="521.02" stroke="#1a1a1a" stroke-width="1.3"/>
<text transform="translate(27.10 524.72) scale(1 1.09)" font-size="10.40" text-anchor="end" font-weight="bold" fill="#111" stroke="#111" stroke-width="0.25">8</text>
<line x1="27.90" y1="505.36" x2="34.40" y2="505.36" stroke="#1a1a1a" stroke-width="1.3"/>
<text transform="translate(27.10 509.06) scale(1 1.09)" font-size="10.40" text-anchor="end" font-weight="bold" fill="#111" stroke="#111" stroke-width="0.25">9</text>
<line x1="27.90" y1="489.70" x2="34.40" y2="489.70" stroke="#1a1a1a" stroke-width="1.3"/>
<text transform="translate(27.10 493.40) scale(1 1.09)" font-size="10.40" text-anchor="end" font-weight="bold" fill="#111" stroke="#111" stroke-width="0.25">10</text>
<line x1="27.90" y1="474.04" x2="34.40" y2="474.04" stroke="#1a1a1a" stroke-width="1.3"/>
<text transform="translate(27.10 477.74) scale(1 1.09)" font-size="10.40" text-anchor="end" font-weight="bold" fill="#111" stroke="#111" stroke-width="0.25">11</text>
<line x1="27.90" y1="458.38" x2="34.40" y2="458.38" stroke="#1a1a1a" stroke-width="1.3"/>
<text transform="translate(27.10 462.08) scale(1 1.09)" font-size="10.40" text-anchor="end" font-weight="bold" fill="#111" stroke="#111" stroke-width="0.25">12</text>
<line x1="33.80" y1="646.30" x2="161.00" y2="646.30" stroke="#1a1a1a" stroke-width="1.3"/>
<line x1="47.00" y1="492.60" x2="145.70" y2="492.60" stroke="#000" stroke-width="1.5"/>
<text transform="translate(98.70 488.90) scale(1 1.09)" font-size="9.40" text-anchor="middle" font-weight="bold" fill="#111" stroke="#111" stroke-width="0.25">p=0.0015</text>
<line x1="47.00" y1="504.90" x2="107.50" y2="504.90" stroke="#000" stroke-width="1.5"/>
<text transform="translate(78.20 501.20) scale(1 1.09)" font-size="9.40" text-anchor="middle" font-weight="bold" fill="#111" stroke="#111" stroke-width="0.25">p=0.0015</text>
<rect x="42.50" y="450.70" width="7.70" height="5.80" fill="#b5b6b4"/>
<text transform="translate(53.70 456.50) scale(1 1.09)" font-size="9.70" text-anchor="start" font-weight="bold" fill="#111" stroke="#111" stroke-width="0.25">LNP</text>
<rect x="42.50" y="460.90" width="7.70" height="5.80" fill="#8da8cc"/>
<text transform="translate(53.70 466.70) scale(1 1.09)" font-size="9.70" text-anchor="start" font-weight="bold" fill="#111" stroke="#111" stroke-width="0.25">(1 μg mRNA-NP)×2</text>
<rect x="42.50" y="470.70" width="7.70" height="5.80" fill="#9e7bba"/>
<text transform="translate(53.70 476.50) scale(1 1.09)" font-size="9.70" text-anchor="start" font-weight="bold" fill="#111" stroke="#111" stroke-width="0.25">(5 μg mRNA-NP)×2</text>
<text transform="translate(122.50 450.70) scale(1 1.09)" font-size="10.80" text-anchor="middle" font-weight="bold" fill="#111" stroke="#111" stroke-width="0.25">mRNA-NP</text>
<text transform="translate(10.00 555.20) rotate(-90) scale(1.09 1)" font-size="10.18" text-anchor="middle" font-weight="bold" fill="#111" stroke="#111" stroke-width="0.25">Viral load in blood (Log10 copies/mL)</text>
<text transform="translate(1.50 450.50) scale(1 1.09)" font-size="10.30" text-anchor="start" font-weight="bold" fill="#111" stroke="#111" stroke-width="0.25">H</text>
<rect x="266.20" y="512.60" width="23.70" height="133.10" fill="#b5b6b4"/>
<rect x="304.70" y="529.10" width="23.90" height="116.60" fill="#8da8cc"/>
<rect x="343.30" y="537.00" width="23.60" height="108.70" fill="#9e7bba"/>
<line x1="253.20" y1="615.00" x2="379.60" y2="615.00" stroke="#000" stroke-width="1.8" stroke-dasharray="5.3 4.2"/>
<text transform="translate(382.10 618.70) scale(1 1.09)" font-size="10.30" text-anchor="start" font-weight="bold" fill="#111" stroke="#111" stroke-width="0.25">LOD</text>
<line x1="278.00" y1="509.50" x2="278.00" y2="521.00" stroke="#222" stroke-width="1.1"/>
<line x1="271.50" y1="509.50" x2="284.50" y2="509.50" stroke="#222" stroke-width="1.1"/>
<line x1="271.50" y1="521.00" x2="284.50" y2="521.00" stroke="#222" stroke-width="1.1"/>
<line x1="316.60" y1="525.60" x2="316.60" y2="535.30" stroke="#222" stroke-width="1.1"/>
<line x1="311.10" y1="525.60" x2="322.10" y2="525.60" stroke="#222" stroke-width="1.1"/>
<line x1="311.10" y1="535.30" x2="322.10" y2="535.30" stroke="#222" stroke-width="1.1"/>
<line x1="355.00" y1="532.30" x2="355.00" y2="569.40" stroke="#222" stroke-width="1.1"/>
<line x1="349.30" y1="532.30" x2="360.70" y2="532.30" stroke="#222" stroke-width="1.1"/>
<line x1="349.30" y1="569.40" x2="360.70" y2="569.40" stroke="#222" stroke-width="1.1"/>
<rect x="265.95" y="510.15" width="4.90" height="4.90" fill="#000"/>
<rect x="272.35" y="511.85" width="4.90" height="4.90" fill="#000"/>
<rect x="278.05" y="511.85" width="4.90" height="4.90" fill="#000"/>
<rect x="284.45" y="506.85" width="4.90" height="4.90" fill="#000"/>
<rect x="284.45" y="514.05" width="4.90" height="4.90" fill="#000"/>
<rect x="275.15" y="533.35" width="4.90" height="4.90" fill="#000"/>
<rect x="308.45" y="518.55" width="4.90" height="4.90" fill="#000"/>
<rect x="319.65" y="522.25" width="4.90" height="4.90" fill="#000"/>
<rect x="314.15" y="555.75" width="4.90" height="4.90" fill="#000"/>
<rect x="314.15" y="563.55" width="4.90" height="4.90" fill="#000"/>
<rect x="314.15" y="617.45" width="4.90" height="4.90" fill="#000"/>
<rect x="352.35" y="522.25" width="4.90" height="4.90" fill="#000"/>
<rect x="343.35" y="559.45" width="4.90" height="4.90" fill="#000"/>
<rect x="352.55" y="561.85" width="4.90" height="4.90" fill="#000"/>
<rect x="343.35" y="617.45" width="4.90" height="4.90" fill="#000"/>
<rect x="352.55" y="617.45" width="4.90" height="4.90" fill="#000"/>
<rect x="361.75" y="617.45" width="4.90" height="4.90" fill="#000"/>
<line x1="253.20" y1="458.02" x2="253.20" y2="646.30" stroke="#1a1a1a" stroke-width="1.3"/>
<line x1="246.70" y1="645.70" x2="253.20" y2="645.70" stroke="#1a1a1a" stroke-width="1.3"/>
<text transform="translate(245.90 649.40) scale(1 1.09)" font-size="10.40" text-anchor="end" font-weight="bold" fill="#111" stroke="#111" stroke-width="0.25">0</text>
<line x1="246.70" y1="630.06" x2="253.20" y2="630.06" stroke="#1a1a1a" stroke-width="1.3"/>
<text transform="translate(245.90 633.76) scale(1 1.09)" font-size="10.40" text-anchor="end" font-weight="bold" fill="#111" stroke="#111" stroke-width="0.25">1</text>
<line x1="246.70" y1="614.42" x2="253.20" y2="614.42" stroke="#1a1a1a" stroke-width="1.3"/>
<text transform="translate(245.90 618.12) scale(1 1.09)" font-size="10.40" text-anchor="end" font-weight="bold" fill="#111" stroke="#111" stroke-width="0.25">2</text>
<line x1="246.70" y1="598.78" x2="253.20" y2="598.78" stroke="#1a1a1a" stroke-width="1.3"/>
<text transform="translate(245.90 602.48) scale(1 1.09)" font-size="10.40" text-anchor="end" font-weight="bold" fill="#111" stroke="#111" stroke-width="0.25">3</text>
<line x1="246.70" y1="583.14" x2="253.20" y2="583.14" stroke="#1a1a1a" stroke-width="1.3"/>
<text transform="translate(245.90 586.84) scale(1 1.09)" font-size="10.40" text-anchor="end" font-weight="bold" fill="#111" stroke="#111" stroke-width="0.25">4</text>
<line x1="246.70" y1="567.50" x2="253.20" y2="567.50" stroke="#1a1a1a" stroke-width="1.3"/>
<text transform="translate(245.90 571.20) scale(1 1.09)" font-size="10.40" text-anchor="end" font-weight="bold" fill="#111" stroke="#111" stroke-width="0.25">5</text>
<line x1="246.70" y1="551.86" x2="253.20" y2="551.86" stroke="#1a1a1a" stroke-width="1.3"/>
<text transform="translate(245.90 555.56) scale(1 1.09)" font-size="10.40" text-anchor="end" font-weight="bold" fill="#111" stroke="#111" stroke-width="0.25">6</text>
<line x1="246.70" y1="536.22" x2="253.20" y2="536.22" stroke="#1a1a1a" stroke-width="1.3"/>
<text transform="translate(245.90 539.92) scale(1 1.09)" font-size="10.40" text-anchor="end" font-weight="bold" fill="#111" stroke="#111" stroke-width="0.25">7</text>
<line x1="246.70" y1="520.58" x2="253.20" y2="520.58" stroke="#1a1a1a" stroke-width="1.3"/>
<text transform="translate(245.90 524.28) scale(1 1.09)" font-size="10.40" text-anchor="end" font-weight="bold" fill="#111" stroke="#111" stroke-width="0.25">8</text>
<line x1="246.70" y1="504.94" x2="253.20" y2="504.94" stroke="#1a1a1a" stroke-width="1.3"/>
<text transform="translate(245.90 508.64) scale(1 1.09)" font-size="10.40" text-anchor="end" font-weight="bold" fill="#111" stroke="#111" stroke-width="0.25">9</text>
<line x1="246.70" y1="489.30" x2="253.20" y2="489.30" stroke="#1a1a1a" stroke-width="1.3"/>
<text transform="translate(245.90 493.00) scale(1 1.09)" font-size="10.40" text-anchor="end" font-weight="bold" fill="#111" stroke="#111" stroke-width="0.25">10</text>
<line x1="246.70" y1="473.66" x2="253.20" y2="473.66" stroke="#1a1a1a" stroke-width="1.3"/>
<text transform="translate(245.90 477.36) scale(1 1.09)" font-size="10.40" text-anchor="end" font-weight="bold" fill="#111" stroke="#111" stroke-width="0.25">11</text>
<line x1="246.70" y1="458.02" x2="253.20" y2="458.02" stroke="#1a1a1a" stroke-width="1.3"/>
<text transform="translate(245.90 461.72) scale(1 1.09)" font-size="10.40" text-anchor="end" font-weight="bold" fill="#111" stroke="#111" stroke-width="0.25">12</text>
<line x1="252.60" y1="645.70" x2="382.00" y2="645.70" stroke="#1a1a1a" stroke-width="1.3"/>
<line x1="266.20" y1="492.40" x2="364.70" y2="492.40" stroke="#000" stroke-width="1.5"/>
<text transform="translate(317.20 488.90) scale(1 1.09)" font-size="9.40" text-anchor="middle" font-weight="bold" fill="#111" stroke="#111" stroke-width="0.25">p=0.0027</text>
<line x1="266.20" y1="504.70" x2="325.80" y2="504.70" stroke="#000" stroke-width="1.5"/>
<text transform="translate(297.40 501.20) scale(1 1.09)" font-size="9.40" text-anchor="middle" font-weight="bold" fill="#111" stroke="#111" stroke-width="0.25">p=0.0077</text>
<rect x="261.30" y="452.20" width="7.90" height="5.80" fill="#b5b6b4"/>
<text transform="translate(273.00 458.00) scale(1 1.09)" font-size="9.50" text-anchor="start" font-weight="bold" fill="#111" stroke="#111" stroke-width="0.25">LNP</text>
<rect x="261.30" y="462.20" width="7.90" height="5.80" fill="#8da8cc"/>
<text transform="translate(273.00 468.00) scale(1 1.09)" font-size="9.50" text-anchor="start" font-weight="bold" fill="#111" stroke="#111" stroke-width="0.25">(1 μg mRNA-GPC)×2</text>
<rect x="261.30" y="472.30" width="7.90" height="5.80" fill="#9e7bba"/>
<text transform="translate(273.00 478.10) scale(1 1.09)" font-size="9.50" text-anchor="start" font-weight="bold" fill="#111" stroke="#111" stroke-width="0.25">(5 μg mRNA-GPC)×2</text>
<text transform="translate(339.00 450.70) scale(1 1.09)" font-size="10.80" text-anchor="middle" font-weight="bold" fill="#111" stroke="#111" stroke-width="0.25">mRNA-GPC</text>
<text transform="translate(228.80 555.20) rotate(-90) scale(1.09 1)" font-size="10.18" text-anchor="middle" font-weight="bold" fill="#111" stroke="#111" stroke-width="0.25">Viral load in blood (Log10 copies/mL)</text>
<text transform="translate(219.00 450.50) scale(1 1.09)" font-size="10.30" text-anchor="start" font-weight="bold" fill="#111" stroke="#111" stroke-width="0.25">I</text>
<rect x="498.00" y="515.80" width="23.70" height="130.70" fill="#b5b6b4"/>
<rect x="536.60" y="621.20" width="24.10" height="25.30" fill="#8da8cc"/>
<rect x="575.20" y="621.20" width="23.80" height="25.30" fill="#9e7bba"/>
<line x1="485.20" y1="615.20" x2="611.40" y2="615.20" stroke="#000" stroke-width="1.8" stroke-dasharray="5.3 4.2"/>
<text transform="translate(615.30 618.90) scale(1 1.09)" font-size="10.30" text-anchor="start" font-weight="bold" fill="#111" stroke="#111" stroke-width="0.25">LOD</text>
<line x1="509.80" y1="512.50" x2="509.80" y2="518.50" stroke="#222" stroke-width="1.1"/>
<line x1="504.30" y1="512.50" x2="515.30" y2="512.50" stroke="#222" stroke-width="1.1"/>
<line x1="504.30" y1="518.50" x2="515.30" y2="518.50" stroke="#222" stroke-width="1.1"/>
<path d="M500.40,510.80 L503.00,515.60 L497.80,515.60Z" fill="#000"/>
<path d="M505.50,513.10 L508.10,517.90 L502.90,517.90Z" fill="#000"/>
<path d="M510.80,512.50 L513.40,517.30 L508.20,517.30Z" fill="#000"/>
<path d="M518.80,508.10 L521.40,512.90 L516.20,512.90Z" fill="#000"/>
<path d="M519.20,514.30 L521.80,519.10 L516.60,519.10Z" fill="#000"/>
<path d="M509.80,533.90 L512.40,538.70 L507.20,538.70Z" fill="#000"/>
<path d="M539.00,617.00 L541.60,621.80 L536.40,621.80Z" fill="#000"/>
<path d="M542.86,617.00 L545.46,621.80 L540.26,621.80Z" fill="#000"/>
<path d="M546.72,617.00 L549.32,621.80 L544.12,621.80Z" fill="#000"/>
<path d="M550.58,617.00 L553.18,621.80 L547.98,621.80Z" fill="#000"/>
<path d="M554.44,617.00 L557.04,621.80 L551.84,621.80Z" fill="#000"/>
<path d="M558.30,617.00 L560.90,621.80 L555.70,621.80Z" fill="#000"/>
<path d="M577.60,617.00 L580.20,621.80 L575.00,621.80Z" fill="#000"/>
<path d="M581.44,617.00 L584.04,621.80 L578.84,621.80Z" fill="#000"/>
<path d="M585.28,617.00 L587.88,621.80 L582.68,621.80Z" fill="#000"/>
<path d="M589.12,617.00 L591.72,621.80 L586.52,621.80Z" fill="#000"/>
<path d="M592.96,617.00 L595.56,621.80 L590.36,621.80Z" fill="#000"/>
<path d="M596.80,617.00 L599.40,621.80 L594.20,621.80Z" fill="#000"/>
<line x1="485.20" y1="458.34" x2="485.20" y2="647.10" stroke="#1a1a1a" stroke-width="1.3"/>
<line x1="478.70" y1="646.50" x2="485.20" y2="646.50" stroke="#1a1a1a" stroke-width="1.3"/>
<text transform="translate(477.90 650.20) scale(1 1.09)" font-size="10.40" text-anchor="end" font-weight="bold" fill="#111" stroke="#111" stroke-width="0.25">0</text>
<line x1="478.70" y1="630.82" x2="485.20" y2="630.82" stroke="#1a1a1a" stroke-width="1.3"/>
<text transform="translate(477.90 634.52) scale(1 1.09)" font-size="10.40" text-anchor="end" font-weight="bold" fill="#111" stroke="#111" stroke-width="0.25">1</text>
<line x1="478.70" y1="615.14" x2="485.20" y2="615.14" stroke="#1a1a1a" stroke-width="1.3"/>
<text transform="translate(477.90 618.84) scale(1 1.09)" font-size="10.40" text-anchor="end" font-weight="bold" fill="#111" stroke="#111" stroke-width="0.25">2</text>
<line x1="478.70" y1="599.46" x2="485.20" y2="599.46" stroke="#1a1a1a" stroke-width="1.3"/>
<text transform="translate(477.90 603.16) scale(1 1.09)" font-size="10.40" text-anchor="end" font-weight="bold" fill="#111" stroke="#111" stroke-width="0.25">3</text>
<line x1="478.70" y1="583.78" x2="485.20" y2="583.78" stroke="#1a1a1a" stroke-width="1.3"/>
<text transform="translate(477.90 587.48) scale(1 1.09)" font-size="10.40" text-anchor="end" font-weight="bold" fill="#111" stroke="#111" stroke-width="0.25">4</text>
<line x1="478.70" y1="568.10" x2="485.20" y2="568.10" stroke="#1a1a1a" stroke-width="1.3"/>
<text transform="translate(477.90 571.80) scale(1 1.09)" font-size="10.40" text-anchor="end" font-weight="bold" fill="#111" stroke="#111" stroke-width="0.25">5</text>
<line x1="478.70" y1="552.42" x2="485.20" y2="552.42" stroke="#1a1a1a" stroke-width="1.3"/>
<text transform="translate(477.90 556.12) scale(1 1.09)" font-size="10.40" text-anchor="end" font-weight="bold" fill="#111" stroke="#111" stroke-width="0.25">6</text>
<line x1="478.70" y1="536.74" x2="485.20" y2="536.74" stroke="#1a1a1a" stroke-width="1.3"/>
<text transform="translate(477.90 540.44) scale(1 1.09)" font-size="10.40" text-anchor="end" font-weight="bold" fill="#111" stroke="#111" stroke-width="0.25">7</text>
<line x1="478.70" y1="521.06" x2="485.20" y2="521.06" stroke="#1a1a1a" stroke-width="1.3"/>
<text transform="translate(477.90 524.76) scale(1 1.09)" font-size="10.40" text-anchor="end" font-weight="bold" fill="#111" stroke="#111" stroke-width="0.25">8</text>
<line x1="478.70" y1="505.38" x2="485.20" y2="505.38" stroke="#1a1a1a" stroke-width="1.3"/>
<text transform="translate(477.90 509.08) scale(1 1.09)" font-size="10.40" text-anchor="end" font-weight="bold" fill="#111" stroke="#111" stroke-width="0.25">9</text>
<line x1="478.70" y1="489.70" x2="485.20" y2="489.70" stroke="#1a1a1a" stroke-width="1.3"/>
<text transform="translate(477.90 493.40) scale(1 1.09)" font-size="10.40" text-anchor="end" font-weight="bold" fill="#111" stroke="#111" stroke-width="0.25">10</text>
<line x1="478.70" y1="474.02" x2="485.20" y2="474.02" stroke="#1a1a1a" stroke-width="1.3"/>
<text transform="translate(477.90 477.72) scale(1 1.09)" font-size="10.40" text-anchor="end" font-weight="bold" fill="#111" stroke="#111" stroke-width="0.25">11</text>
<line x1="478.70" y1="458.34" x2="485.20" y2="458.34" stroke="#1a1a1a" stroke-width="1.3"/>
<text transform="translate(477.90 462.04) scale(1 1.09)" font-size="10.40" text-anchor="end" font-weight="bold" fill="#111" stroke="#111" stroke-width="0.25">12</text>
<line x1="484.60" y1="646.50" x2="611.90" y2="646.50" stroke="#1a1a1a" stroke-width="1.3"/>
<line x1="507.60" y1="494.30" x2="586.90" y2="494.30" stroke="#000" stroke-width="1.5"/>
<text transform="translate(549.00 491.20) scale(1 1.09)" font-size="9.40" text-anchor="middle" font-weight="bold" fill="#111" stroke="#111" stroke-width="0.25">p=0.0015</text>
<line x1="498.00" y1="506.00" x2="558.30" y2="506.00" stroke="#000" stroke-width="1.5"/>
<text transform="translate(528.50 502.50) scale(1 1.09)" font-size="9.40" text-anchor="middle" font-weight="bold" fill="#111" stroke="#111" stroke-width="0.25">p=0.0015</text>
<rect x="494.10" y="455.70" width="7.70" height="5.80" fill="#b5b6b4"/>
<text transform="translate(505.60 461.50) scale(1 1.09)" font-size="9.67" text-anchor="start" font-weight="bold" fill="#111" stroke="#111" stroke-width="0.25">LNP</text>
<rect x="494.10" y="465.60" width="7.70" height="5.80" fill="#8da8cc"/>
<text transform="translate(505.60 471.40) scale(1 1.09)" font-size="9.67" text-anchor="start" font-weight="bold" fill="#111" stroke="#111" stroke-width="0.25">(1 μg mRNA-NP)+(1 μg mRNA-GPC)</text>
<rect x="494.10" y="475.60" width="7.70" height="5.80" fill="#9e7bba"/>
<text transform="translate(505.60 481.40) scale(1 1.09)" font-size="9.67" text-anchor="start" font-weight="bold" fill="#111" stroke="#111" stroke-width="0.25">(5 μg mRNA-NP)+(5 μg mRNA-GPC)</text>
<text transform="translate(570.00 449.80) scale(1 1.09)" font-size="10.80" text-anchor="middle" font-weight="bold" fill="#111" stroke="#111" stroke-width="0.25">mRNA- NP+mRNA-GPC</text>
<text transform="translate(458.00 555.20) rotate(-90) scale(1.09 1)" font-size="10.18" text-anchor="middle" font-weight="bold" fill="#111" stroke="#111" stroke-width="0.25">Viral load in blood (Log10 copies/mL)</text>
<text transform="translate(447.00 450.50) scale(1 1.09)" font-size="10.30" text-anchor="start" font-weight="bold" fill="#111" stroke="#111" stroke-width="0.25">J</text>
<rect x="43.00" y="745.00" width="21.00" height="115.90" fill="#b5b6b4"/>
<rect x="66.20" y="781.10" width="20.70" height="79.80" fill="#8da8cc"/>
<rect x="89.20" y="842.60" width="20.80" height="18.30" fill="#9e7bba"/>
<rect x="131.10" y="742.60" width="20.90" height="118.30" fill="#b5b6b4"/>
<rect x="154.40" y="842.60" width="21.10" height="18.30" fill="#8da8cc"/>
<rect x="178.00" y="842.60" width="20.60" height="18.30" fill="#9e7bba"/>
<line x1="32.20" y1="838.70" x2="204.00" y2="838.70" stroke="#000" stroke-width="1.8" stroke-dasharray="5.3 4.2"/>
<text transform="translate(205.80 842.40) scale(1 1.09)" font-size="10.30" text-anchor="start" font-weight="bold" fill="#111" stroke="#111" stroke-width="0.25">LOD</text>
<line x1="53.60" y1="741.60" x2="53.60" y2="746.20" stroke="#222" stroke-width="1.1"/>
<line x1="48.60" y1="741.60" x2="58.60" y2="741.60" stroke="#222" stroke-width="1.1"/>
<line x1="48.60" y1="746.20" x2="58.60" y2="746.20" stroke="#222" stroke-width="1.1"/>
<line x1="76.80" y1="779.40" x2="76.80" y2="786.20" stroke="#222" stroke-width="1.1"/>
<line x1="71.80" y1="779.40" x2="81.80" y2="779.40" stroke="#222" stroke-width="1.1"/>
<line x1="71.80" y1="786.20" x2="81.80" y2="786.20" stroke="#222" stroke-width="1.1"/>
<line x1="141.70" y1="739.30" x2="141.70" y2="749.50" stroke="#222" stroke-width="1.1"/>
<line x1="136.70" y1="739.30" x2="146.70" y2="739.30" stroke="#222" stroke-width="1.1"/>
<line x1="136.70" y1="749.50" x2="146.70" y2="749.50" stroke="#222" stroke-width="1.1"/>
<circle cx="53.60" cy="737.20" r="2.85" fill="#000"/>
<circle cx="45.20" cy="743.60" r="2.85" fill="#000"/>
<circle cx="60.90" cy="743.60" r="2.85" fill="#000"/>
<circle cx="45.20" cy="750.40" r="2.85" fill="#000"/>
<circle cx="53.60" cy="749.30" r="2.85" fill="#000"/>
<circle cx="60.90" cy="750.40" r="2.85" fill="#000"/>
<circle cx="72.50" cy="776.80" r="2.85" fill="#000"/>
<circle cx="80.50" cy="775.10" r="2.85" fill="#000"/>
<circle cx="77.10" cy="791.70" r="2.85" fill="#000"/>
<circle cx="68.60" cy="842.40" r="2.85" fill="#000"/>
<circle cx="76.80" cy="842.40" r="2.85" fill="#000"/>
<circle cx="84.60" cy="842.40" r="2.85" fill="#000"/>
<circle cx="92.50" cy="842.40" r="2.85" fill="#000"/>
<circle cx="95.40" cy="842.40" r="2.85" fill="#000"/>
<circle cx="98.30" cy="842.40" r="2.85" fill="#000"/>
<circle cx="101.20" cy="842.40" r="2.85" fill="#000"/>
<circle cx="104.10" cy="842.40" r="2.85" fill="#000"/>
<circle cx="107.00" cy="842.40" r="2.85" fill="#000"/>
<circle cx="141.70" cy="735.20" r="2.85" fill="#000"/>
<circle cx="141.70" cy="743.40" r="2.85" fill="#000"/>
<circle cx="141.70" cy="749.10" r="2.85" fill="#000"/>
<circle cx="133.90" cy="755.30" r="2.85" fill="#000"/>
<circle cx="133.90" cy="761.00" r="2.85" fill="#000"/>
<circle cx="149.50" cy="758.70" r="2.85" fill="#000"/>
<circle cx="157.00" cy="842.40" r="2.85" fill="#000"/>
<circle cx="160.20" cy="842.40" r="2.85" fill="#000"/>
<circle cx="163.40" cy="842.40" r="2.85" fill="#000"/>
<circle cx="166.60" cy="842.40" r="2.85" fill="#000"/>
<circle cx="169.80" cy="842.40" r="2.85" fill="#000"/>
<circle cx="173.00" cy="842.40" r="2.85" fill="#000"/>
<circle cx="180.50" cy="842.40" r="2.85" fill="#000"/>
<circle cx="183.60" cy="842.40" r="2.85" fill="#000"/>
<circle cx="186.70" cy="842.40" r="2.85" fill="#000"/>
<circle cx="189.80" cy="842.40" r="2.85" fill="#000"/>
<circle cx="192.90" cy="842.40" r="2.85" fill="#000"/>
<circle cx="196.00" cy="842.40" r="2.85" fill="#000"/>
<line x1="32.20" y1="684.50" x2="32.20" y2="861.50" stroke="#1a1a1a" stroke-width="1.3"/>
<line x1="25.50" y1="860.90" x2="32.20" y2="860.90" stroke="#1a1a1a" stroke-width="1.3"/>
<text transform="translate(24.70 864.60) scale(1 1.09)" font-size="10.40" text-anchor="end" font-weight="bold" fill="#111" stroke="#111" stroke-width="0.25">0</text>
<line x1="25.50" y1="838.85" x2="32.20" y2="838.85" stroke="#1a1a1a" stroke-width="1.3"/>
<text transform="translate(24.70 842.55) scale(1 1.09)" font-size="10.40" text-anchor="end" font-weight="bold" fill="#111" stroke="#111" stroke-width="0.25">2</text>
<line x1="25.50" y1="816.80" x2="32.20" y2="816.80" stroke="#1a1a1a" stroke-width="1.3"/>
<text transform="translate(24.70 820.50) scale(1 1.09)" font-size="10.40" text-anchor="end" font-weight="bold" fill="#111" stroke="#111" stroke-width="0.25">4</text>
<line x1="25.50" y1="794.75" x2="32.20" y2="794.75" stroke="#1a1a1a" stroke-width="1.3"/>
<text transform="translate(24.70 798.45) scale(1 1.09)" font-size="10.40" text-anchor="end" font-weight="bold" fill="#111" stroke="#111" stroke-width="0.25">6</text>
<line x1="25.50" y1="772.70" x2="32.20" y2="772.70" stroke="#1a1a1a" stroke-width="1.3"/>
<text transform="translate(24.70 776.40) scale(1 1.09)" font-size="10.40" text-anchor="end" font-weight="bold" fill="#111" stroke="#111" stroke-width="0.25">8</text>
<line x1="25.50" y1="750.65" x2="32.20" y2="750.65" stroke="#1a1a1a" stroke-width="1.3"/>
<text transform="translate(24.70 754.35) scale(1 1.09)" font-size="10.40" text-anchor="end" font-weight="bold" fill="#111" stroke="#111" stroke-width="0.25">10</text>
<line x1="25.50" y1="728.60" x2="32.20" y2="728.60" stroke="#1a1a1a" stroke-width="1.3"/>
<text transform="translate(24.70 732.30) scale(1 1.09)" font-size="10.40" text-anchor="end" font-weight="bold" fill="#111" stroke="#111" stroke-width="0.25">12</text>
<line x1="25.50" y1="706.55" x2="32.20" y2="706.55" stroke="#1a1a1a" stroke-width="1.3"/>
<text transform="translate(24.70 710.25) scale(1 1.09)" font-size="10.40" text-anchor="end" font-weight="bold" fill="#111" stroke="#111" stroke-width="0.25">14</text>
<line x1="25.50" y1="684.50" x2="32.20" y2="684.50" stroke="#1a1a1a" stroke-width="1.3"/>
<text transform="translate(24.70 688.20) scale(1 1.09)" font-size="10.40" text-anchor="end" font-weight="bold" fill="#111" stroke="#111" stroke-width="0.25">16</text>
<line x1="31.60" y1="860.90" x2="209.90" y2="860.90" stroke="#1a1a1a" stroke-width="1.3"/>
<line x1="76.20" y1="860.90" x2="76.20" y2="867.40" stroke="#1a1a1a" stroke-width="1.3"/>
<text transform="translate(75.60 876.50) scale(1 1.09)" font-size="10.60" text-anchor="middle" font-weight="bold" fill="#111" stroke="#111" stroke-width="0.25">Liver</text>
<line x1="164.20" y1="860.90" x2="164.20" y2="867.40" stroke="#1a1a1a" stroke-width="1.3"/>
<text transform="translate(165.70 876.50) scale(1 1.09)" font-size="10.60" text-anchor="middle" font-weight="bold" fill="#111" stroke="#111" stroke-width="0.25">Spleen</text>
<line x1="45.20" y1="719.20" x2="110.90" y2="719.20" stroke="#000" stroke-width="1.5"/>
<text transform="translate(80.90 715.70) scale(1 1.09)" font-size="9.40" text-anchor="middle" font-weight="bold" fill="#111" stroke="#111" stroke-width="0.25">p=0.0008</text>
<line x1="45.20" y1="732.20" x2="87.10" y2="732.20" stroke="#000" stroke-width="1.5"/>
<text transform="translate(66.50 728.70) scale(1 1.09)" font-size="9.40" text-anchor="middle" font-weight="bold" fill="#111" stroke="#111" stroke-width="0.25">p=0.028</text>
<line x1="132.10" y1="715.80" x2="198.60" y2="715.80" stroke="#000" stroke-width="1.5"/>
<text transform="translate(167.10 712.70) scale(1 1.09)" font-size="9.40" text-anchor="middle" font-weight="bold" fill="#111" stroke="#111" stroke-width="0.25">p=0.0015</text>
<line x1="132.10" y1="729.70" x2="174.90" y2="729.70" stroke="#000" stroke-width="1.5"/>
<text transform="translate(152.70 726.60) scale(1 1.09)" font-size="9.40" text-anchor="middle" font-weight="bold" fill="#111" stroke="#111" stroke-width="0.25">p=0.0015</text>
<rect x="35.00" y="674.10" width="7.90" height="5.80" fill="#b5b6b4"/>
<text transform="translate(47.00 679.90) scale(1 1.09)" font-size="9.70" text-anchor="start" font-weight="bold" fill="#111" stroke="#111" stroke-width="0.25">LNP</text>
<rect x="35.00" y="684.30" width="7.90" height="5.80" fill="#8da8cc"/>
<text transform="translate(47.00 690.10) scale(1 1.09)" font-size="9.70" text-anchor="start" font-weight="bold" fill="#111" stroke="#111" stroke-width="0.25">(1 μg mRNA-NP)×2</text>
<rect x="35.00" y="694.20" width="7.90" height="5.80" fill="#9e7bba"/>
<text transform="translate(47.00 700.00) scale(1 1.09)" font-size="9.70" text-anchor="start" font-weight="bold" fill="#111" stroke="#111" stroke-width="0.25">(5 μg mRNA-NP)×2</text>
<text transform="translate(122.50 670.10) scale(1 1.09)" font-size="10.80" text-anchor="middle" font-weight="bold" fill="#111" stroke="#111" stroke-width="0.25">mRNA-NP</text>
<text transform="translate(9.30 830.90) rotate(-90) scale(1.09 1)" font-size="9.72" text-anchor="start" font-weight="bold" fill="#111" stroke="#111" stroke-width="0.25">Viral load</text>
<text transform="translate(9.30 775.00) rotate(-90) scale(1.09 1)" font-size="9.72" text-anchor="start" font-weight="bold" fill="#111" stroke="#111" stroke-width="0.25">(Log10 copies/g)</text>
<text transform="translate(1.40 669.60) scale(1 1.09)" font-size="10.30" text-anchor="start" font-weight="bold" fill="#111" stroke="#111" stroke-width="0.25">K</text>
<rect x="263.00" y="740.30" width="20.70" height="120.00" fill="#b5b6b4"/>
<rect x="286.20" y="730.70" width="20.70" height="129.60" fill="#8da8cc"/>
<rect x="309.10" y="737.90" width="20.70" height="122.40" fill="#9e7bba"/>
<rect x="351.20" y="741.20" width="20.80" height="119.10" fill="#b5b6b4"/>
<rect x="374.60" y="723.00" width="20.90" height="137.30" fill="#8da8cc"/>
<rect x="397.70" y="777.90" width="20.50" height="82.40" fill="#9e7bba"/>
<line x1="252.40" y1="838.00" x2="423.20" y2="838.00" stroke="#000" stroke-width="1.8" stroke-dasharray="5.3 4.2"/>
<text transform="translate(425.00 841.70) scale(1 1.09)" font-size="10.30" text-anchor="start" font-weight="bold" fill="#111" stroke="#111" stroke-width="0.25">LOD</text>
<line x1="273.30" y1="739.30" x2="273.30" y2="745.40" stroke="#222" stroke-width="1.1"/>
<line x1="268.30" y1="739.30" x2="278.30" y2="739.30" stroke="#222" stroke-width="1.1"/>
<line x1="268.30" y1="745.40" x2="278.30" y2="745.40" stroke="#222" stroke-width="1.1"/>
<line x1="296.40" y1="728.40" x2="296.40" y2="735.00" stroke="#222" stroke-width="1.1"/>
<line x1="290.90" y1="728.40" x2="301.90" y2="728.40" stroke="#222" stroke-width="1.1"/>
<line x1="290.90" y1="735.00" x2="301.90" y2="735.00" stroke="#222" stroke-width="1.1"/>
<line x1="319.50" y1="734.70" x2="319.50" y2="763.30" stroke="#222" stroke-width="1.1"/>
<line x1="314.00" y1="734.70" x2="325.00" y2="734.70" stroke="#222" stroke-width="1.1"/>
<line x1="314.00" y1="763.30" x2="325.00" y2="763.30" stroke="#222" stroke-width="1.1"/>
<line x1="361.00" y1="738.60" x2="361.00" y2="748.30" stroke="#222" stroke-width="1.1"/>
<line x1="356.00" y1="738.60" x2="366.00" y2="738.60" stroke="#222" stroke-width="1.1"/>
<line x1="356.00" y1="748.30" x2="366.00" y2="748.30" stroke="#222" stroke-width="1.1"/>
<line x1="384.30" y1="719.60" x2="384.30" y2="765.60" stroke="#222" stroke-width="1.1"/>
<line x1="378.80" y1="719.60" x2="389.80" y2="719.60" stroke="#222" stroke-width="1.1"/>
<line x1="378.80" y1="765.60" x2="389.80" y2="765.60" stroke="#222" stroke-width="1.1"/>
<line x1="408.00" y1="776.00" x2="408.00" y2="781.80" stroke="#222" stroke-width="1.1"/>
<line x1="403.00" y1="776.00" x2="413.00" y2="776.00" stroke="#222" stroke-width="1.1"/>
<line x1="403.00" y1="781.80" x2="413.00" y2="781.80" stroke="#222" stroke-width="1.1"/>
<rect x="270.85" y="733.55" width="4.90" height="4.90" fill="#000"/>
<rect x="263.05" y="739.95" width="4.90" height="4.90" fill="#000"/>
<rect x="278.55" y="739.95" width="4.90" height="4.90" fill="#000"/>
<rect x="263.05" y="746.85" width="4.90" height="4.90" fill="#000"/>
<rect x="270.85" y="745.35" width="4.90" height="4.90" fill="#000"/>
<rect x="278.55" y="745.85" width="4.90" height="4.90" fill="#000"/>
<rect x="290.15" y="724.35" width="4.90" height="4.90" fill="#000"/>
<rect x="298.15" y="721.95" width="4.90" height="4.90" fill="#000"/>
<rect x="285.75" y="741.05" width="4.90" height="4.90" fill="#000"/>
<rect x="285.75" y="746.55" width="4.90" height="4.90" fill="#000"/>
<rect x="293.95" y="742.55" width="4.90" height="4.90" fill="#000"/>
<rect x="301.55" y="744.15" width="4.90" height="4.90" fill="#000"/>
<rect x="317.05" y="727.05" width="4.90" height="4.90" fill="#000"/>
<rect x="309.25" y="754.85" width="4.90" height="4.90" fill="#000"/>
<rect x="324.95" y="757.75" width="4.90" height="4.90" fill="#000"/>
<rect x="317.05" y="773.25" width="4.90" height="4.90" fill="#000"/>
<rect x="317.05" y="778.35" width="4.90" height="4.90" fill="#000"/>
<rect x="317.05" y="787.55" width="4.90" height="4.90" fill="#000"/>
<rect x="358.55" y="730.75" width="4.90" height="4.90" fill="#000"/>
<rect x="358.55" y="739.35" width="4.90" height="4.90" fill="#000"/>
<rect x="358.55" y="745.45" width="4.90" height="4.90" fill="#000"/>
<rect x="350.95" y="750.85" width="4.90" height="4.90" fill="#000"/>
<rect x="350.95" y="756.65" width="4.90" height="4.90" fill="#000"/>
<rect x="366.75" y="754.95" width="4.90" height="4.90" fill="#000"/>
<rect x="381.85" y="711.75" width="4.90" height="4.90" fill="#000"/>
<rect x="374.25" y="757.05" width="4.90" height="4.90" fill="#000"/>
<rect x="389.85" y="761.45" width="4.90" height="4.90" fill="#000"/>
<rect x="381.85" y="767.85" width="4.90" height="4.90" fill="#000"/>
<rect x="389.85" y="774.35" width="4.90" height="4.90" fill="#000"/>
<rect x="374.25" y="779.35" width="4.90" height="4.90" fill="#000"/>
<rect x="405.55" y="770.05" width="4.90" height="4.90" fill="#000"/>
<rect x="413.15" y="769.65" width="4.90" height="4.90" fill="#000"/>
<rect x="405.55" y="786.95" width="4.90" height="4.90" fill="#000"/>
<rect x="397.55" y="838.75" width="4.90" height="4.90" fill="#000"/>
<rect x="405.55" y="838.75" width="4.90" height="4.90" fill="#000"/>
<rect x="413.15" y="838.75" width="4.90" height="4.90" fill="#000"/>
<rect x="268.3" y="740.6" width="4.2" height="4.1" fill="#d2d2d2"/><rect x="274.1" y="740.6" width="4.2" height="4.1" fill="#d2d2d2"/><line x1="268.3" y1="741.2" x2="278.3" y2="741.2" stroke="#fff" stroke-width="0.9"/><line x1="273.3" y1="739.3" x2="273.3" y2="745.4" stroke="#222" stroke-width="1.1"/>
<line x1="252.40" y1="683.50" x2="252.40" y2="860.90" stroke="#1a1a1a" stroke-width="1.3"/>
<line x1="245.40" y1="860.30" x2="252.40" y2="860.30" stroke="#1a1a1a" stroke-width="1.3"/>
<text transform="translate(244.60 864.00) scale(1 1.09)" font-size="10.40" text-anchor="end" font-weight="bold" fill="#111" stroke="#111" stroke-width="0.25">0</text>
<line x1="245.40" y1="838.20" x2="252.40" y2="838.20" stroke="#1a1a1a" stroke-width="1.3"/>
<text transform="translate(244.60 841.90) scale(1 1.09)" font-size="10.40" text-anchor="end" font-weight="bold" fill="#111" stroke="#111" stroke-width="0.25">2</text>
<line x1="245.40" y1="816.10" x2="252.40" y2="816.10" stroke="#1a1a1a" stroke-width="1.3"/>
<text transform="translate(244.60 819.80) scale(1 1.09)" font-size="10.40" text-anchor="end" font-weight="bold" fill="#111" stroke="#111" stroke-width="0.25">4</text>
<line x1="245.40" y1="794.00" x2="252.40" y2="794.00" stroke="#1a1a1a" stroke-width="1.3"/>
<text transform="translate(244.60 797.70) scale(1 1.09)" font-size="10.40" text-anchor="end" font-weight="bold" fill="#111" stroke="#111" stroke-width="0.25">6</text>
<line x1="245.40" y1="771.90" x2="252.40" y2="771.90" stroke="#1a1a1a" stroke-width="1.3"/>
<text transform="translate(244.60 775.60) scale(1 1.09)" font-size="10.40" text-anchor="end" font-weight="bold" fill="#111" stroke="#111" stroke-width="0.25">8</text>
<line x1="245.40" y1="749.80" x2="252.40" y2="749.80" stroke="#1a1a1a" stroke-width="1.3"/>
<text transform="translate(244.60 753.50) scale(1 1.09)" font-size="10.40" text-anchor="end" font-weight="bold" fill="#111" stroke="#111" stroke-width="0.25">10</text>
<line x1="245.40" y1="727.70" x2="252.40" y2="727.70" stroke="#1a1a1a" stroke-width="1.3"/>
<text transform="translate(244.60 731.40) scale(1 1.09)" font-size="10.40" text-anchor="end" font-weight="bold" fill="#111" stroke="#111" stroke-width="0.25">12</text>
<line x1="245.40" y1="705.60" x2="252.40" y2="705.60" stroke="#1a1a1a" stroke-width="1.3"/>
<text transform="translate(244.60 709.30) scale(1 1.09)" font-size="10.40" text-anchor="end" font-weight="bold" fill="#111" stroke="#111" stroke-width="0.25">14</text>
<line x1="245.40" y1="683.50" x2="252.40" y2="683.50" stroke="#1a1a1a" stroke-width="1.3"/>
<text transform="translate(244.60 687.20) scale(1 1.09)" font-size="10.40" text-anchor="end" font-weight="bold" fill="#111" stroke="#111" stroke-width="0.25">16</text>
<line x1="251.80" y1="860.30" x2="429.60" y2="860.30" stroke="#1a1a1a" stroke-width="1.3"/>
<line x1="296.40" y1="860.30" x2="296.40" y2="866.80" stroke="#1a1a1a" stroke-width="1.3"/>
<text transform="translate(296.70 876.50) scale(1 1.09)" font-size="10.60" text-anchor="middle" font-weight="bold" fill="#111" stroke="#111" stroke-width="0.25">Liver</text>
<line x1="384.30" y1="860.30" x2="384.30" y2="866.80" stroke="#1a1a1a" stroke-width="1.3"/>
<text transform="translate(386.00 876.50) scale(1 1.09)" font-size="10.60" text-anchor="middle" font-weight="bold" fill="#111" stroke="#111" stroke-width="0.25">Spleen</text>
<line x1="351.20" y1="710.50" x2="417.30" y2="710.50" stroke="#000" stroke-width="1.5"/>
<text transform="translate(386.10 706.80) scale(1 1.09)" font-size="9.40" text-anchor="middle" font-weight="bold" fill="#111" stroke="#111" stroke-width="0.25">p=0.0023</text>
<rect x="256.40" y="673.80" width="7.90" height="5.80" fill="#b5b6b4"/>
<text transform="translate(268.30 679.60) scale(1 1.09)" font-size="9.55" text-anchor="start" font-weight="bold" fill="#111" stroke="#111" stroke-width="0.25">LNP</text>
<rect x="256.40" y="684.10" width="7.90" height="5.80" fill="#8da8cc"/>
<text transform="translate(268.30 689.90) scale(1 1.09)" font-size="9.55" text-anchor="start" font-weight="bold" fill="#111" stroke="#111" stroke-width="0.25">(1 μg mRNA-GPC)×2</text>
<rect x="256.40" y="694.50" width="7.90" height="5.80" fill="#9e7bba"/>
<text transform="translate(268.30 700.30) scale(1 1.09)" font-size="9.55" text-anchor="start" font-weight="bold" fill="#111" stroke="#111" stroke-width="0.25">(5 μg mRNA-GPC)×2</text>
<text transform="translate(339.50 670.40) scale(1 1.09)" font-size="10.80" text-anchor="middle" font-weight="bold" fill="#111" stroke="#111" stroke-width="0.25">mRNA-GPC</text>
<text transform="translate(228.00 829.00) rotate(-90) scale(1.09 1)" font-size="9.72" text-anchor="start" font-weight="bold" fill="#111" stroke="#111" stroke-width="0.25">Viral load</text>
<text transform="translate(228.00 774.80) rotate(-90) scale(1.09 1)" font-size="9.72" text-anchor="start" font-weight="bold" fill="#111" stroke="#111" stroke-width="0.25">(Log10 copies/g)</text>
<text transform="translate(219.00 669.60) scale(1 1.09)" font-size="10.30" text-anchor="start" font-weight="bold" fill="#111" stroke="#111" stroke-width="0.25">L</text>
<rect x="491.90" y="742.30" width="21.00" height="117.30" fill="#b5b6b4"/>
<rect x="515.00" y="842.50" width="21.50" height="17.10" fill="#8da8cc"/>
<rect x="538.60" y="842.50" width="21.30" height="17.10" fill="#9e7bba"/>
<rect x="580.10" y="741.20" width="20.90" height="118.40" fill="#b5b6b4"/>
<rect x="603.80" y="842.50" width="20.50" height="17.10" fill="#8da8cc"/>
<rect x="626.90" y="842.50" width="20.50" height="17.10" fill="#9e7bba"/>
<line x1="481.90" y1="837.90" x2="653.30" y2="837.90" stroke="#000" stroke-width="1.8" stroke-dasharray="5.3 4.2"/>
<text transform="translate(655.10 841.60) scale(1 1.09)" font-size="10.30" text-anchor="start" font-weight="bold" fill="#111" stroke="#111" stroke-width="0.25">LOD</text>
<line x1="502.60" y1="740.00" x2="502.60" y2="745.40" stroke="#222" stroke-width="1.1"/>
<line x1="497.60" y1="740.00" x2="507.60" y2="740.00" stroke="#222" stroke-width="1.1"/>
<line x1="497.60" y1="745.40" x2="507.60" y2="745.40" stroke="#222" stroke-width="1.1"/>
<line x1="590.90" y1="738.60" x2="590.90" y2="748.70" stroke="#222" stroke-width="1.1"/>
<line x1="585.90" y1="738.60" x2="595.90" y2="738.60" stroke="#222" stroke-width="1.1"/>
<line x1="585.90" y1="748.70" x2="595.90" y2="748.70" stroke="#222" stroke-width="1.1"/>
<path d="M502.60,733.30 L505.20,738.10 L500.00,738.10Z" fill="#000"/>
<path d="M495.00,739.80 L497.60,744.60 L492.40,744.60Z" fill="#000"/>
<path d="M510.50,739.80 L513.10,744.60 L507.90,744.60Z" fill="#000"/>
<path d="M495.00,746.80 L497.60,751.60 L492.40,751.60Z" fill="#000"/>
<path d="M502.60,745.60 L505.20,750.40 L500.00,750.40Z" fill="#000"/>
<path d="M510.50,746.80 L513.10,751.60 L507.90,751.60Z" fill="#000"/>
<path d="M518.00,838.60 L520.60,843.40 L515.40,843.40Z" fill="#000"/>
<path d="M521.10,838.60 L523.70,843.40 L518.50,843.40Z" fill="#000"/>
<path d="M524.20,838.60 L526.80,843.40 L521.60,843.40Z" fill="#000"/>
<path d="M527.30,838.60 L529.90,843.40 L524.70,843.40Z" fill="#000"/>
<path d="M530.40,838.60 L533.00,843.40 L527.80,843.40Z" fill="#000"/>
<path d="M533.50,838.60 L536.10,843.40 L530.90,843.40Z" fill="#000"/>
<path d="M541.50,838.60 L544.10,843.40 L538.90,843.40Z" fill="#000"/>
<path d="M544.60,838.60 L547.20,843.40 L542.00,843.40Z" fill="#000"/>
<path d="M547.70,838.60 L550.30,843.40 L545.10,843.40Z" fill="#000"/>
<path d="M550.80,838.60 L553.40,843.40 L548.20,843.40Z" fill="#000"/>
<path d="M553.90,838.60 L556.50,843.40 L551.30,843.40Z" fill="#000"/>
<path d="M557.00,838.60 L559.60,843.40 L554.40,843.40Z" fill="#000"/>
<path d="M590.90,731.40 L593.50,736.20 L588.30,736.20Z" fill="#000"/>
<path d="M590.90,740.00 L593.50,744.80 L588.30,744.80Z" fill="#000"/>
<path d="M590.90,745.00 L593.50,749.80 L588.30,749.80Z" fill="#000"/>
<path d="M582.70,751.40 L585.30,756.20 L580.10,756.20Z" fill="#000"/>
<path d="M582.70,757.30 L585.30,762.10 L580.10,762.10Z" fill="#000"/>
<path d="M598.90,754.50 L601.50,759.30 L596.30,759.30Z" fill="#000"/>
<path d="M606.80,838.60 L609.40,843.40 L604.20,843.40Z" fill="#000"/>
<path d="M609.70,838.60 L612.30,843.40 L607.10,843.40Z" fill="#000"/>
<path d="M612.60,838.60 L615.20,843.40 L610.00,843.40Z" fill="#000"/>
<path d="M615.50,838.60 L618.10,843.40 L612.90,843.40Z" fill="#000"/>
<path d="M618.40,838.60 L621.00,843.40 L615.80,843.40Z" fill="#000"/>
<path d="M621.30,838.60 L623.90,843.40 L618.70,843.40Z" fill="#000"/>
<path d="M629.90,838.60 L632.50,843.40 L627.30,843.40Z" fill="#000"/>
<path d="M632.80,838.60 L635.40,843.40 L630.20,843.40Z" fill="#000"/>
<path d="M635.70,838.60 L638.30,843.40 L633.10,843.40Z" fill="#000"/>
<path d="M638.60,838.60 L641.20,843.40 L636.00,843.40Z" fill="#000"/>
<path d="M641.50,838.60 L644.10,843.40 L638.90,843.40Z" fill="#000"/>
<path d="M644.40,838.60 L647.00,843.40 L641.80,843.40Z" fill="#000"/>
<line x1="481.90" y1="682.80" x2="481.90" y2="860.20" stroke="#1a1a1a" stroke-width="1.3"/>
<line x1="474.90" y1="859.60" x2="481.90" y2="859.60" stroke="#1a1a1a" stroke-width="1.3"/>
<text transform="translate(474.10 863.30) scale(1 1.09)" font-size="10.40" text-anchor="end" font-weight="bold" fill="#111" stroke="#111" stroke-width="0.25">0</text>
<line x1="474.90" y1="837.50" x2="481.90" y2="837.50" stroke="#1a1a1a" stroke-width="1.3"/>
<text transform="translate(474.10 841.20) scale(1 1.09)" font-size="10.40" text-anchor="end" font-weight="bold" fill="#111" stroke="#111" stroke-width="0.25">2</text>
<line x1="474.90" y1="815.40" x2="481.90" y2="815.40" stroke="#1a1a1a" stroke-width="1.3"/>
<text transform="translate(474.10 819.10) scale(1 1.09)" font-size="10.40" text-anchor="end" font-weight="bold" fill="#111" stroke="#111" stroke-width="0.25">4</text>
<line x1="474.90" y1="793.30" x2="481.90" y2="793.30" stroke="#1a1a1a" stroke-width="1.3"/>
<text transform="translate(474.10 797.00) scale(1 1.09)" font-size="10.40" text-anchor="end" font-weight="bold" fill="#111" stroke="#111" stroke-width="0.25">6</text>
<line x1="474.90" y1="771.20" x2="481.90" y2="771.20" stroke="#1a1a1a" stroke-width="1.3"/>
<text transform="translate(474.10 774.90) scale(1 1.09)" font-size="10.40" text-anchor="end" font-weight="bold" fill="#111" stroke="#111" stroke-width="0.25">8</text>
<line x1="474.90" y1="749.10" x2="481.90" y2="749.10" stroke="#1a1a1a" stroke-width="1.3"/>
<text transform="translate(474.10 752.80) scale(1 1.09)" font-size="10.40" text-anchor="end" font-weight="bold" fill="#111" stroke="#111" stroke-width="0.25">10</text>
<line x1="474.90" y1="727.00" x2="481.90" y2="727.00" stroke="#1a1a1a" stroke-width="1.3"/>
<text transform="translate(474.10 730.70) scale(1 1.09)" font-size="10.40" text-anchor="end" font-weight="bold" fill="#111" stroke="#111" stroke-width="0.25">12</text>
<line x1="474.90" y1="704.90" x2="481.90" y2="704.90" stroke="#1a1a1a" stroke-width="1.3"/>
<text transform="translate(474.10 708.60) scale(1 1.09)" font-size="10.40" text-anchor="end" font-weight="bold" fill="#111" stroke="#111" stroke-width="0.25">14</text>
<line x1="474.90" y1="682.80" x2="481.90" y2="682.80" stroke="#1a1a1a" stroke-width="1.3"/>
<text transform="translate(474.10 686.50) scale(1 1.09)" font-size="10.40" text-anchor="end" font-weight="bold" fill="#111" stroke="#111" stroke-width="0.25">16</text>
<line x1="481.30" y1="859.60" x2="658.90" y2="859.60" stroke="#1a1a1a" stroke-width="1.3"/>
<line x1="525.70" y1="859.60" x2="525.70" y2="866.10" stroke="#1a1a1a" stroke-width="1.3"/>
<text transform="translate(526.10 876.50) scale(1 1.09)" font-size="10.60" text-anchor="middle" font-weight="bold" fill="#111" stroke="#111" stroke-width="0.25">Liver</text>
<line x1="613.50" y1="859.60" x2="613.50" y2="866.10" stroke="#1a1a1a" stroke-width="1.3"/>
<text transform="translate(616.20 876.50) scale(1 1.09)" font-size="10.60" text-anchor="middle" font-weight="bold" fill="#111" stroke="#111" stroke-width="0.25">Spleen</text>
<line x1="491.90" y1="716.40" x2="557.80" y2="716.40" stroke="#000" stroke-width="1.5"/>
<text transform="translate(526.50 712.60) scale(1 1.09)" font-size="9.40" text-anchor="middle" font-weight="bold" fill="#111" stroke="#111" stroke-width="0.25">p=0.0015</text>
<line x1="491.90" y1="730.10" x2="534.50" y2="730.10" stroke="#000" stroke-width="1.5"/>
<text transform="translate(512.30 726.60) scale(1 1.09)" font-size="9.40" text-anchor="middle" font-weight="bold" fill="#111" stroke="#111" stroke-width="0.25">p=0.0015</text>
<line x1="580.50" y1="715.50" x2="646.40" y2="715.50" stroke="#000" stroke-width="1.5"/>
<text transform="translate(614.70 712.20) scale(1 1.09)" font-size="9.40" text-anchor="middle" font-weight="bold" fill="#111" stroke="#111" stroke-width="0.25">p=0.0015</text>
<line x1="580.50" y1="729.30" x2="622.60" y2="729.30" stroke="#000" stroke-width="1.5"/>
<text transform="translate(600.70 725.60) scale(1 1.09)" font-size="9.40" text-anchor="middle" font-weight="bold" fill="#111" stroke="#111" stroke-width="0.25">p=0.0015</text>
<rect x="490.70" y="674.10" width="7.50" height="5.80" fill="#b5b6b4"/>
<text transform="translate(502.00 679.90) scale(1 1.09)" font-size="9.69" text-anchor="start" font-weight="bold" fill="#111" stroke="#111" stroke-width="0.25">LNP</text>
<rect x="490.70" y="684.30" width="7.50" height="5.80" fill="#8da8cc"/>
<text transform="translate(502.00 690.10) scale(1 1.09)" font-size="9.69" text-anchor="start" font-weight="bold" fill="#111" stroke="#111" stroke-width="0.25">(1 μg mRNA-NP)+(1 μg mRNA-GPC)</text>
<rect x="490.70" y="694.20" width="7.50" height="5.80" fill="#9e7bba"/>
<text transform="translate(502.00 700.00) scale(1 1.09)" font-size="9.69" text-anchor="start" font-weight="bold" fill="#111" stroke="#111" stroke-width="0.25">(5 μg mRNA-NP)+(5 μg mRNA-GPC)</text>
<text transform="translate(570.40 670.50) scale(1 1.09)" font-size="10.80" text-anchor="middle" font-weight="bold" fill="#111" stroke="#111" stroke-width="0.25">mRNA- NP+mRNA-GPC</text>
<text transform="translate(458.20 828.30) rotate(-90) scale(1.09 1)" font-size="9.72" text-anchor="start" font-weight="bold" fill="#111" stroke="#111" stroke-width="0.25">Viral load</text>
<text transform="translate(458.20 774.80) rotate(-90) scale(1.09 1)" font-size="9.72" text-anchor="start" font-weight="bold" fill="#111" stroke="#111" stroke-width="0.25">(Log10 copies/g)</text>
<text transform="translate(447.00 669.60) scale(1 1.09)" font-size="10.30" text-anchor="start" font-weight="bold" fill="#111" stroke="#111" stroke-width="0.25">M</text>
</svg>
</body></html>
